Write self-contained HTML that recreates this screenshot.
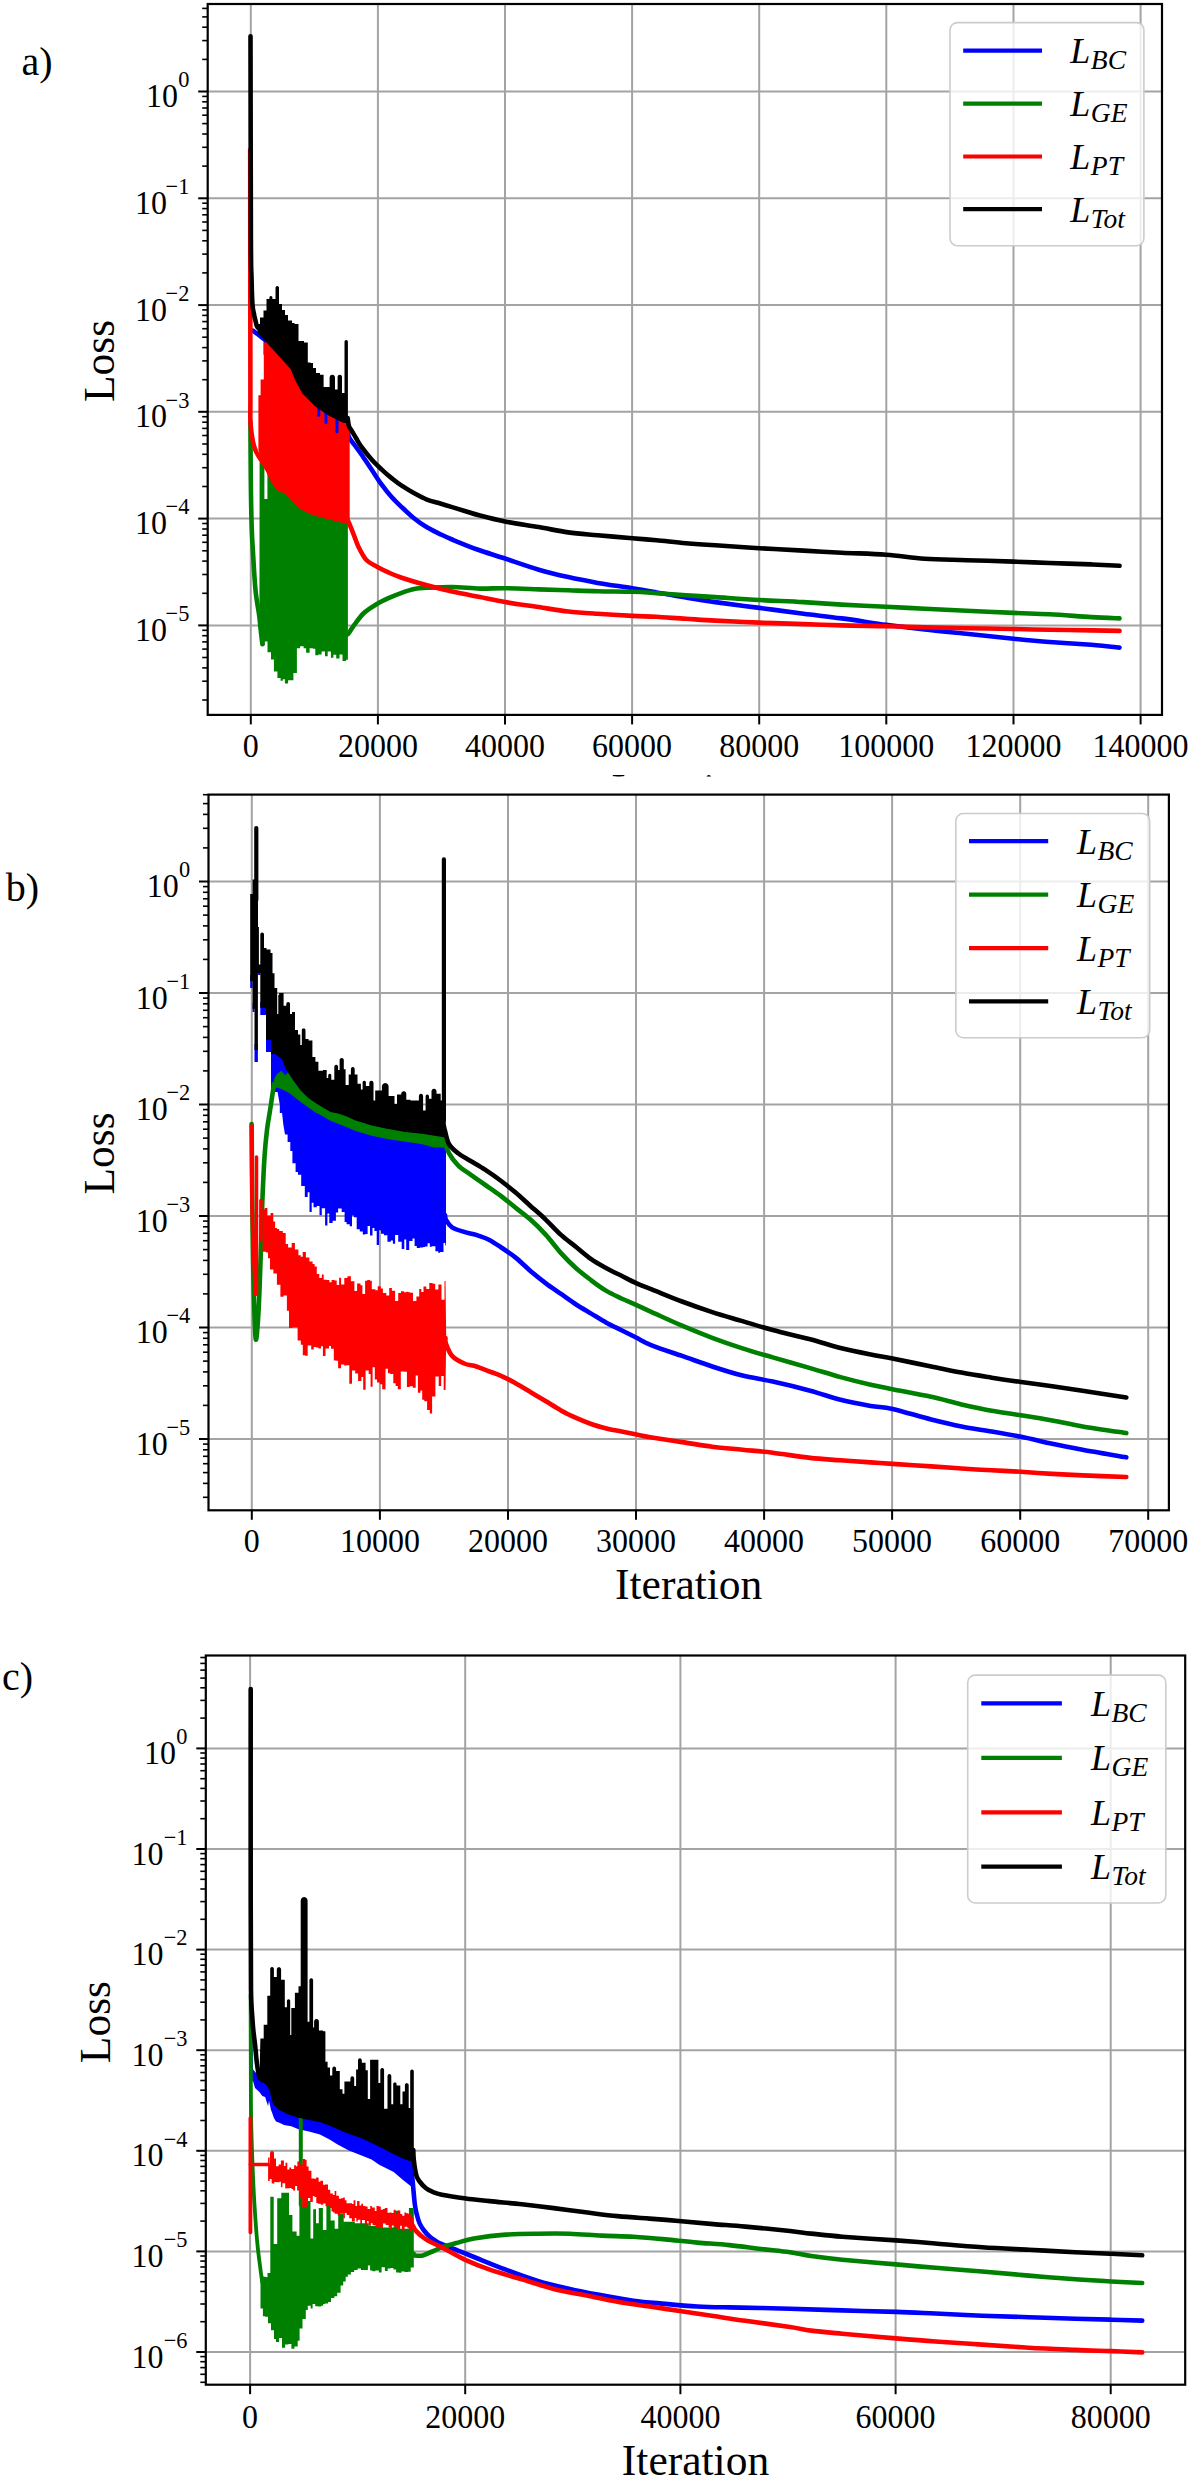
<!DOCTYPE html>
<html><head><meta charset="utf-8"><title>Loss curves</title>
<style>html,body{margin:0;padding:0;background:#fff;}svg{display:block;}</style></head>
<body><svg width="1190" height="2480" viewBox="0 0 1190 2480">
<rect width="1190" height="2480" fill="#fff"/>
<defs><clipPath id="ca"><rect x="0" y="0" width="1190" height="776.5"/></clipPath></defs>
<g clip-path="url(#ca)">
<line x1="250.8" y1="4" x2="250.8" y2="714.9" stroke="#a3a3a3" stroke-width="2"/>
<line x1="377.9" y1="4" x2="377.9" y2="714.9" stroke="#a3a3a3" stroke-width="2"/>
<line x1="505" y1="4" x2="505" y2="714.9" stroke="#a3a3a3" stroke-width="2"/>
<line x1="632.1" y1="4" x2="632.1" y2="714.9" stroke="#a3a3a3" stroke-width="2"/>
<line x1="759.2" y1="4" x2="759.2" y2="714.9" stroke="#a3a3a3" stroke-width="2"/>
<line x1="886.3" y1="4" x2="886.3" y2="714.9" stroke="#a3a3a3" stroke-width="2"/>
<line x1="1013.5" y1="4" x2="1013.5" y2="714.9" stroke="#a3a3a3" stroke-width="2"/>
<line x1="1140.6" y1="4" x2="1140.6" y2="714.9" stroke="#a3a3a3" stroke-width="2"/>
<line x1="207.7" y1="91.5" x2="1162" y2="91.5" stroke="#a3a3a3" stroke-width="2"/>
<line x1="207.7" y1="198.3" x2="1162" y2="198.3" stroke="#a3a3a3" stroke-width="2"/>
<line x1="207.7" y1="305.1" x2="1162" y2="305.1" stroke="#a3a3a3" stroke-width="2"/>
<line x1="207.7" y1="411.8" x2="1162" y2="411.8" stroke="#a3a3a3" stroke-width="2"/>
<line x1="207.7" y1="518.6" x2="1162" y2="518.6" stroke="#a3a3a3" stroke-width="2"/>
<line x1="207.7" y1="625.4" x2="1162" y2="625.4" stroke="#a3a3a3" stroke-width="2"/>
<path d="M252.9,330.6 C254.1,331.5 257.6,334.2 260,336 C262.4,337.8 265.8,340.3 267,341.2" fill="none" stroke="#0000ff" stroke-width="4.6" stroke-linejoin="round" stroke-linecap="round"/>
<line x1="265.3" y1="341" x2="265.3" y2="354" stroke="#0000ff" stroke-width="3.5" stroke-linecap="round"/>
<path d="M347.7,425 C347.9,426.9 347.6,433.2 348.7,436.5 C349.8,439.8 352.4,442.1 354.5,445 C356.6,447.9 358.5,450.1 361.3,454.2 C364.1,458.2 368,464.3 371.4,469.3 C374.8,474.3 378.1,479.8 381.5,484.4 C384.9,489 388.2,493.2 391.6,497 C395,500.8 397.9,503.5 401.7,507.1 C405.5,510.7 410.1,515.1 414.3,518.5 C418.5,521.9 422.7,524.8 426.9,527.3 C431.1,529.8 435.3,531.8 439.5,533.8 C443.7,535.8 445.8,536.9 452.1,539.5 C458.4,542.1 468.5,546.3 477.3,549.5 C486.1,552.7 494.8,555.1 505,558.5 C515.2,561.9 528.3,566.6 538.8,569.7 C549.3,572.8 558.4,574.9 568.2,577.1 C578,579.3 586.9,581 597.6,582.9 C608.3,584.8 622.6,586.6 632.4,588.2 C642.2,589.8 647.6,590.8 656.5,592.4 C665.4,594 676.1,596 685.9,597.6 C695.7,599.2 703,600.4 715.3,602.1 C727.5,603.8 744.7,606 759.4,607.9 C774.1,609.8 789.8,612 803.5,613.8 C817.2,615.5 827.9,616.6 841.6,618.4 C855.4,620.2 872.1,622.9 886,624.8 C899.9,626.6 911.4,628 924.8,629.5 C938.2,631 951.6,632.2 966.4,633.7 C981.2,635.2 999.6,637.3 1013.5,638.7 C1027.4,640.1 1036.6,641 1049.6,642 C1062.5,643 1079.5,643.9 1091.2,644.8 C1102.9,645.7 1114.8,647.1 1119.5,647.6" fill="none" stroke="#0000ff" stroke-width="4.6" stroke-linejoin="round" stroke-linecap="round"/>
<path d="M250.4,422 C250.5,431.7 250.6,462.4 250.8,480 C251,497.6 251.3,515.2 251.7,527.3 C252.1,539.4 252.4,542 253,552.5 C253.6,563 254.5,579.8 255.5,590.3 C256.5,600.8 258.4,609.2 259.2,615.5 C260,621.8 260,623.3 260.5,628.1 C261,632.9 262.1,641.6 262.4,644.3" fill="none" stroke="#008000" stroke-width="4.6" stroke-linejoin="round" stroke-linecap="round"/>
<polygon points="259.6,462 347.9,462 347.9,632 347.9,659.7 346,659.7 346,661.1 342.5,661.1 342.5,654.6 339.5,654.6 339.5,658.5 336.2,658.5 336.2,654.7 333.4,654.7 333.4,657.7 330.9,657.7 330.9,651.6 327.7,651.6 327.7,656.2 325,656.2 325,651.6 321.6,651.6 321.6,654.6 318.4,654.6 318.4,655.3 315.3,655.3 315.3,648.8 312.9,648.8 312.9,648.3 309.6,648.3 309.6,652.7 306.1,652.7 306.1,648.2 303.6,648.2 303.6,646.2 300.1,646.2 300.1,648.3 296.9,648.3 296.9,673 293.4,673 293.4,680.2 290.2,680.2 290.2,680.3 288.1,680.3 288.1,683.4 284.9,683.4 284.9,679.2 282.8,679.2 282.8,680.8 280.6,680.8 280.6,677.9 277.4,677.9 277.4,671.4 273.9,671.4 273.9,659.4 271,659.4 271,652.3 267.5,652.3 267.5,641.6 264.8,641.6 264.8,645 261.6,645 261.6,633.1 259.4,633.1" fill="#008000"/>
<rect x="264.4" y="468" width="3" height="31" fill="#fff"/>
<path d="M347.7,634 C347.9,633.9 347.7,634.6 348.7,633.2 C349.7,631.8 351.3,629 353.8,625.6 C356.3,622.2 360.1,616.6 363.9,613 C367.7,609.4 372.3,606.7 376.5,604.2 C380.7,601.7 384.8,599.8 389,597.9 C393.2,596 397.5,594.3 401.7,592.8 C405.9,591.3 410.1,589.8 414.3,589 C418.5,588.2 420.6,588.1 426.9,587.8 C433.2,587.5 443.2,586.9 452.1,587 C461,587.1 471.2,588.4 480,588.6 C488.8,588.8 495.2,588.1 505,588.2 C514.8,588.3 528.3,589 538.8,589.4 C549.3,589.8 558.4,590 568.2,590.3 C578,590.6 586.9,591 597.6,591.2 C608.3,591.5 622.6,591.5 632.4,591.8 C642.2,592.1 647.6,592.6 656.5,593.2 C665.4,593.8 676.1,594.6 685.9,595.3 C695.7,595.9 703,596.3 715.3,597.1 C727.5,597.9 744.7,599.2 759.4,600 C774.1,600.8 789.8,601.3 803.5,602.1 C817.2,602.9 827.9,603.8 841.6,604.6 C855.4,605.4 872.1,606.1 886,606.8 C899.9,607.5 911.4,608.1 924.8,608.7 C938.2,609.4 951.6,610 966.4,610.7 C981.2,611.4 999.6,612.3 1013.5,612.9 C1027.4,613.5 1036.6,613.6 1049.6,614.3 C1062.5,615 1079.5,616.4 1091.2,617.1 C1102.9,617.8 1114.8,618.2 1119.5,618.4" fill="none" stroke="#008000" stroke-width="4.6" stroke-linejoin="round" stroke-linecap="round"/>
<path d="M250.2,150 C250.2,175 250.3,258.3 250.3,300 C250.3,341.7 250.4,379.3 250.4,400 C250.4,420.7 250,416.2 250.6,424 C251.2,431.8 252.5,440.7 254.2,446.6 C255.8,452.5 258.8,456.3 260.5,459.2 C262.2,462.1 263,462.3 264.2,464.1 C265.4,465.9 266.2,467.2 267.8,470.2 C269.4,473.2 271.9,479.1 273.9,482.3 C275.9,485.5 278.1,488.1 279.9,489.5 C281.7,490.9 282.8,489.3 284.8,490.7 C286.8,492.1 289.4,495.4 292,498 C294.6,500.6 297.1,504 300.5,506.4 C303.9,508.8 308.6,510.9 312.6,512.5 C316.6,514.1 320.7,515 324.7,516.1 C328.7,517.2 333.2,518.4 336.8,519.2 C340.4,520 344.9,520.7 346.5,521" fill="none" stroke="#ff0000" stroke-width="4.6" stroke-linejoin="round" stroke-linecap="round"/>
<polygon points="265.3,342.4 267,340 277.6,351.8 290.6,365.9 295.3,377.6 302.4,390.6 315.3,403.5 329.4,413 343.5,420 349.7,421 349.7,521 336.8,521 324.7,518 312.6,514.5 300.5,508.4 292,500 284.8,492.7 279.9,491.5 273.9,484.3 267.8,472.2 264.2,466.1 260,455.2 258.4,450 258.4,395.3 260.6,395.3 260.6,379.4 263.8,379.4 263.8,342.4" fill="#ff0000"/>
<path d="M347.7,520 C347.9,520.4 347.7,519.7 348.7,522.2 C349.7,524.7 352.1,530.6 353.8,534.8 C355.5,539 356.7,543.3 358.8,547.5 C360.9,551.7 363.4,556.9 366.4,560 C369.3,563.1 372.7,564.3 376.5,566.4 C380.3,568.5 384.8,570.8 389,572.7 C393.2,574.6 395.4,575.6 401.7,577.7 C408,579.8 418.5,583 426.9,585.3 C435.3,587.6 443.2,589.6 452.1,591.6 C461,593.6 471.2,595.4 480,597.1 C488.8,598.9 495.2,600.4 505,602.1 C514.8,603.8 528.3,605.5 538.8,607.1 C549.3,608.7 558.4,610.4 568.2,611.5 C578,612.6 586.9,613.1 597.6,613.8 C608.3,614.5 622.6,615.4 632.4,615.9 C642.2,616.4 647.6,616.3 656.5,616.8 C665.4,617.3 676.1,618.2 685.9,618.8 C695.7,619.4 703,620 715.3,620.6 C727.5,621.2 744.7,622 759.4,622.6 C774.1,623.2 789.8,623.6 803.5,624.1 C817.2,624.6 827.9,625 841.6,625.4 C855.4,625.8 872.1,625.9 886,626.2 C899.9,626.5 911.4,627 924.8,627.3 C938.2,627.6 951.6,627.9 966.4,628.2 C981.2,628.5 999.6,628.7 1013.5,629 C1027.4,629.3 1036.6,629.6 1049.6,629.8 C1062.5,630 1079.5,630.2 1091.2,630.4 C1102.9,630.6 1114.8,630.8 1119.5,630.9" fill="none" stroke="#ff0000" stroke-width="4.6" stroke-linejoin="round" stroke-linecap="round"/>
<line x1="318.8" y1="400" x2="318.8" y2="415.3" stroke="#0000ff" stroke-width="3" stroke-linecap="round"/>
<line x1="325.9" y1="400" x2="325.9" y2="422.4" stroke="#0000ff" stroke-width="3" stroke-linecap="round"/>
<line x1="337" y1="400" x2="337" y2="431.8" stroke="#0000ff" stroke-width="3" stroke-linecap="round"/>
<path d="M250.5,36.3 C250.6,69.9 250.7,197.9 250.9,238 C251.1,278.1 251.2,265.7 251.5,276.8 C251.8,287.9 252,298.4 252.5,304.8 C253,311.2 253.6,311.9 254.3,315.5 C255.1,319.1 256.1,324.1 257,326.4 C257.9,328.7 259.5,328.9 260,329.4" fill="none" stroke="#000000" stroke-width="4.6" stroke-linejoin="round" stroke-linecap="round"/>
<polygon points="257.6,324 260,324 260,317.5 263.5,317.5 263.5,310.6 266.5,310.6 266.5,299 269.4,299 269.4,297.5 269.6,296.8 270.1,296.2 270.9,296 271.6,296.2 272.2,296.8 272.4,297.5 272.4,299 275.5,299 275.5,287.8 275.7,286.9 276.4,286.2 277.2,286 278.1,286.2 278.8,286.9 279,287.8 279,304 282,304 282,310 285,310 285,315 288,315 288,320.6 292,320.6 292,323 294.5,323 294.5,324 298.5,324 298.5,341 304,341 304,342.4 307.8,342.4 307.8,362.4 310.6,362.4 310.6,363 313,363 313,368 316,368 316,373 320,373 320,374.7 323.6,374.7 323.6,387 329.6,387 329.6,377.4 330,376.1 330.9,375.1 332.3,374.7 333.6,375.1 334.6,376.1 335,377.4 335,389.4 337.6,389.4 337.6,376.9 337.9,375.8 338.7,375 339.8,374.7 340.9,375 341.7,375.8 342,376.9 342,393 344.5,393 344.5,341.7 344.7,340.9 345.3,340.2 346.2,340 347,340.2 347.7,340.9 347.9,341.7 347.9,423 343.5,423 329.4,416 315.3,406.5 302.4,393.6 295.3,380.6 290.6,368.9 277.6,354.8 267,343 257.6,333" fill="#000000"/>
<path d="M347.7,418 C347.9,419.3 348.3,424 348.9,426 C349.5,428 350,428 351.2,430 C352.4,432 354.3,435.2 356,438 C357.7,440.8 358.7,443.1 361.3,446.6 C363.9,450.1 368,455.4 371.4,459.2 C374.8,463 378.1,466.1 381.5,469.3 C384.9,472.5 388.2,475.4 391.6,478.1 C395,480.8 397.9,483.2 401.7,485.7 C405.5,488.2 410.1,491 414.3,493.3 C418.5,495.6 422.7,497.9 426.9,499.6 C431.1,501.3 435.3,502.1 439.5,503.3 C443.7,504.6 447.9,505.8 452.1,507.1 C456.3,508.4 460.1,509.6 464.7,511 C469.3,512.4 473.3,513.9 480,515.6 C486.7,517.4 495.2,519.6 505,521.5 C514.8,523.4 528.3,525.3 538.8,527.1 C549.3,528.9 558.4,531 568.2,532.4 C578,533.8 586.9,534.3 597.6,535.3 C608.3,536.3 622.6,537.4 632.4,538.2 C642.2,539 647.6,539.5 656.5,540.3 C665.4,541.1 676.1,542.4 685.9,543.2 C695.7,544 703,544.5 715.3,545.3 C727.5,546.1 744.7,547.3 759.4,548.2 C774.1,549.1 789.8,549.9 803.5,550.6 C817.2,551.4 827.9,552 841.6,552.7 C855.4,553.4 872.1,553.7 886,554.7 C899.9,555.7 911.4,557.9 924.8,558.8 C938.2,559.7 951.6,559.7 966.4,560.2 C981.2,560.7 999.6,561.1 1013.5,561.6 C1027.4,562.1 1036.6,562.5 1049.6,563 C1062.5,563.5 1079.5,563.9 1091.2,564.4 C1102.9,564.9 1114.8,565.6 1119.5,565.8" fill="none" stroke="#000000" stroke-width="4.6" stroke-linejoin="round" stroke-linecap="round"/>
<rect x="950" y="22.6" width="193.9" height="223.2" rx="7.5" ry="7.5" fill="#ffffff" fill-opacity="0.8" stroke="#cccccc" stroke-width="1.6"/>
<line x1="963.2" y1="50.6" x2="1042" y2="50.6" stroke="#0000ff" stroke-width="4.2"/>
<text x="1070.3" y="63.2" font-family="'Liberation Serif', serif" font-style="italic" font-size="36">L<tspan font-size="27.5" dy="5.8" dx="0.5">BC</tspan></text>
<line x1="963.2" y1="103.7" x2="1042" y2="103.7" stroke="#008000" stroke-width="4.2"/>
<text x="1070.3" y="116.3" font-family="'Liberation Serif', serif" font-style="italic" font-size="36">L<tspan font-size="27.5" dy="5.8" dx="0.5">GE</tspan></text>
<line x1="963.2" y1="156.5" x2="1042" y2="156.5" stroke="#ff0000" stroke-width="4.2"/>
<text x="1070.3" y="169.1" font-family="'Liberation Serif', serif" font-style="italic" font-size="36">L<tspan font-size="27.5" dy="5.8" dx="0.5">PT</tspan></text>
<line x1="963.2" y1="209.1" x2="1042" y2="209.1" stroke="#000000" stroke-width="4.2"/>
<text x="1070.3" y="221.7" font-family="'Liberation Serif', serif" font-style="italic" font-size="36">L<tspan font-size="27.5" dy="5.8" dx="0.5">Tot</tspan></text>
<rect x="207.7" y="4" width="954.3" height="710.9" fill="none" stroke="#000" stroke-width="2.2"/>
<line x1="250.8" y1="714.9" x2="250.8" y2="724.4" stroke="#000" stroke-width="2"/>
<text transform="translate(250.8,756.7) scale(1,1.065)" font-family="'Liberation Serif', serif" font-size="32" text-anchor="middle">0</text>
<line x1="377.9" y1="714.9" x2="377.9" y2="724.4" stroke="#000" stroke-width="2"/>
<text transform="translate(377.9,756.7) scale(1,1.065)" font-family="'Liberation Serif', serif" font-size="32" text-anchor="middle">20000</text>
<line x1="505" y1="714.9" x2="505" y2="724.4" stroke="#000" stroke-width="2"/>
<text transform="translate(505,756.7) scale(1,1.065)" font-family="'Liberation Serif', serif" font-size="32" text-anchor="middle">40000</text>
<line x1="632.1" y1="714.9" x2="632.1" y2="724.4" stroke="#000" stroke-width="2"/>
<text transform="translate(632.1,756.7) scale(1,1.065)" font-family="'Liberation Serif', serif" font-size="32" text-anchor="middle">60000</text>
<line x1="759.2" y1="714.9" x2="759.2" y2="724.4" stroke="#000" stroke-width="2"/>
<text transform="translate(759.2,756.7) scale(1,1.065)" font-family="'Liberation Serif', serif" font-size="32" text-anchor="middle">80000</text>
<line x1="886.3" y1="714.9" x2="886.3" y2="724.4" stroke="#000" stroke-width="2"/>
<text transform="translate(886.3,756.7) scale(1,1.065)" font-family="'Liberation Serif', serif" font-size="32" text-anchor="middle">100000</text>
<line x1="1013.5" y1="714.9" x2="1013.5" y2="724.4" stroke="#000" stroke-width="2"/>
<text transform="translate(1013.5,756.7) scale(1,1.065)" font-family="'Liberation Serif', serif" font-size="32" text-anchor="middle">120000</text>
<line x1="1140.6" y1="714.9" x2="1140.6" y2="724.4" stroke="#000" stroke-width="2"/>
<text transform="translate(1140.6,756.7) scale(1,1.065)" font-family="'Liberation Serif', serif" font-size="32" text-anchor="middle">140000</text>
<line x1="198.2" y1="91.5" x2="207.7" y2="91.5" stroke="#000" stroke-width="2"/>
<text transform="translate(189.4,87.2) scale(1,1.065)" font-family="'Liberation Serif', serif" font-size="22.4" text-anchor="end">0</text>
<text transform="translate(178,107.1) scale(1,1.065)" font-family="'Liberation Serif', serif" font-size="32" text-anchor="end">10</text>
<line x1="202.2" y1="59.4" x2="207.7" y2="59.4" stroke="#000" stroke-width="1.6"/>
<line x1="202.2" y1="40.6" x2="207.7" y2="40.6" stroke="#000" stroke-width="1.6"/>
<line x1="202.2" y1="27.2" x2="207.7" y2="27.2" stroke="#000" stroke-width="1.6"/>
<line x1="202.2" y1="16.9" x2="207.7" y2="16.9" stroke="#000" stroke-width="1.6"/>
<line x1="202.2" y1="8.4" x2="207.7" y2="8.4" stroke="#000" stroke-width="1.6"/>
<line x1="198.2" y1="198.3" x2="207.7" y2="198.3" stroke="#000" stroke-width="2"/>
<text transform="translate(189.4,194) scale(1,1.065)" font-family="'Liberation Serif', serif" font-size="22.4" text-anchor="end">−1</text>
<text transform="translate(167,213.9) scale(1,1.065)" font-family="'Liberation Serif', serif" font-size="32" text-anchor="end">10</text>
<line x1="202.2" y1="166.1" x2="207.7" y2="166.1" stroke="#000" stroke-width="1.6"/>
<line x1="202.2" y1="147.3" x2="207.7" y2="147.3" stroke="#000" stroke-width="1.6"/>
<line x1="202.2" y1="134" x2="207.7" y2="134" stroke="#000" stroke-width="1.6"/>
<line x1="202.2" y1="123.6" x2="207.7" y2="123.6" stroke="#000" stroke-width="1.6"/>
<line x1="202.2" y1="115.2" x2="207.7" y2="115.2" stroke="#000" stroke-width="1.6"/>
<line x1="202.2" y1="108" x2="207.7" y2="108" stroke="#000" stroke-width="1.6"/>
<line x1="202.2" y1="101.8" x2="207.7" y2="101.8" stroke="#000" stroke-width="1.6"/>
<line x1="202.2" y1="96.4" x2="207.7" y2="96.4" stroke="#000" stroke-width="1.6"/>
<line x1="198.2" y1="305.1" x2="207.7" y2="305.1" stroke="#000" stroke-width="2"/>
<text transform="translate(189.4,300.8) scale(1,1.065)" font-family="'Liberation Serif', serif" font-size="22.4" text-anchor="end">−2</text>
<text transform="translate(167,320.7) scale(1,1.065)" font-family="'Liberation Serif', serif" font-size="32" text-anchor="end">10</text>
<line x1="202.2" y1="272.9" x2="207.7" y2="272.9" stroke="#000" stroke-width="1.6"/>
<line x1="202.2" y1="254.1" x2="207.7" y2="254.1" stroke="#000" stroke-width="1.6"/>
<line x1="202.2" y1="240.8" x2="207.7" y2="240.8" stroke="#000" stroke-width="1.6"/>
<line x1="202.2" y1="230.4" x2="207.7" y2="230.4" stroke="#000" stroke-width="1.6"/>
<line x1="202.2" y1="222" x2="207.7" y2="222" stroke="#000" stroke-width="1.6"/>
<line x1="202.2" y1="214.8" x2="207.7" y2="214.8" stroke="#000" stroke-width="1.6"/>
<line x1="202.2" y1="208.6" x2="207.7" y2="208.6" stroke="#000" stroke-width="1.6"/>
<line x1="202.2" y1="203.2" x2="207.7" y2="203.2" stroke="#000" stroke-width="1.6"/>
<line x1="198.2" y1="411.8" x2="207.7" y2="411.8" stroke="#000" stroke-width="2"/>
<text transform="translate(189.4,407.5) scale(1,1.065)" font-family="'Liberation Serif', serif" font-size="22.4" text-anchor="end">−3</text>
<text transform="translate(167,427.4) scale(1,1.065)" font-family="'Liberation Serif', serif" font-size="32" text-anchor="end">10</text>
<line x1="202.2" y1="379.7" x2="207.7" y2="379.7" stroke="#000" stroke-width="1.6"/>
<line x1="202.2" y1="360.9" x2="207.7" y2="360.9" stroke="#000" stroke-width="1.6"/>
<line x1="202.2" y1="347.6" x2="207.7" y2="347.6" stroke="#000" stroke-width="1.6"/>
<line x1="202.2" y1="337.2" x2="207.7" y2="337.2" stroke="#000" stroke-width="1.6"/>
<line x1="202.2" y1="328.7" x2="207.7" y2="328.7" stroke="#000" stroke-width="1.6"/>
<line x1="202.2" y1="321.6" x2="207.7" y2="321.6" stroke="#000" stroke-width="1.6"/>
<line x1="202.2" y1="315.4" x2="207.7" y2="315.4" stroke="#000" stroke-width="1.6"/>
<line x1="202.2" y1="309.9" x2="207.7" y2="309.9" stroke="#000" stroke-width="1.6"/>
<line x1="198.2" y1="518.6" x2="207.7" y2="518.6" stroke="#000" stroke-width="2"/>
<text transform="translate(189.4,514.3) scale(1,1.065)" font-family="'Liberation Serif', serif" font-size="22.4" text-anchor="end">−4</text>
<text transform="translate(167,534.2) scale(1,1.065)" font-family="'Liberation Serif', serif" font-size="32" text-anchor="end">10</text>
<line x1="202.2" y1="486.5" x2="207.7" y2="486.5" stroke="#000" stroke-width="1.6"/>
<line x1="202.2" y1="467.7" x2="207.7" y2="467.7" stroke="#000" stroke-width="1.6"/>
<line x1="202.2" y1="454.3" x2="207.7" y2="454.3" stroke="#000" stroke-width="1.6"/>
<line x1="202.2" y1="444" x2="207.7" y2="444" stroke="#000" stroke-width="1.6"/>
<line x1="202.2" y1="435.5" x2="207.7" y2="435.5" stroke="#000" stroke-width="1.6"/>
<line x1="202.2" y1="428.4" x2="207.7" y2="428.4" stroke="#000" stroke-width="1.6"/>
<line x1="202.2" y1="422.2" x2="207.7" y2="422.2" stroke="#000" stroke-width="1.6"/>
<line x1="202.2" y1="416.7" x2="207.7" y2="416.7" stroke="#000" stroke-width="1.6"/>
<line x1="198.2" y1="625.4" x2="207.7" y2="625.4" stroke="#000" stroke-width="2"/>
<text transform="translate(189.4,621.1) scale(1,1.065)" font-family="'Liberation Serif', serif" font-size="22.4" text-anchor="end">−5</text>
<text transform="translate(167,641) scale(1,1.065)" font-family="'Liberation Serif', serif" font-size="32" text-anchor="end">10</text>
<line x1="202.2" y1="593.3" x2="207.7" y2="593.3" stroke="#000" stroke-width="1.6"/>
<line x1="202.2" y1="574.5" x2="207.7" y2="574.5" stroke="#000" stroke-width="1.6"/>
<line x1="202.2" y1="561.1" x2="207.7" y2="561.1" stroke="#000" stroke-width="1.6"/>
<line x1="202.2" y1="550.8" x2="207.7" y2="550.8" stroke="#000" stroke-width="1.6"/>
<line x1="202.2" y1="542.3" x2="207.7" y2="542.3" stroke="#000" stroke-width="1.6"/>
<line x1="202.2" y1="535.2" x2="207.7" y2="535.2" stroke="#000" stroke-width="1.6"/>
<line x1="202.2" y1="529" x2="207.7" y2="529" stroke="#000" stroke-width="1.6"/>
<line x1="202.2" y1="523.5" x2="207.7" y2="523.5" stroke="#000" stroke-width="1.6"/>
<line x1="202.2" y1="700" x2="207.7" y2="700" stroke="#000" stroke-width="1.6"/>
<line x1="202.2" y1="681.2" x2="207.7" y2="681.2" stroke="#000" stroke-width="1.6"/>
<line x1="202.2" y1="667.9" x2="207.7" y2="667.9" stroke="#000" stroke-width="1.6"/>
<line x1="202.2" y1="657.5" x2="207.7" y2="657.5" stroke="#000" stroke-width="1.6"/>
<line x1="202.2" y1="649.1" x2="207.7" y2="649.1" stroke="#000" stroke-width="1.6"/>
<line x1="202.2" y1="641.9" x2="207.7" y2="641.9" stroke="#000" stroke-width="1.6"/>
<line x1="202.2" y1="635.7" x2="207.7" y2="635.7" stroke="#000" stroke-width="1.6"/>
<line x1="202.2" y1="630.3" x2="207.7" y2="630.3" stroke="#000" stroke-width="1.6"/>
<text x="684.9" y="803.9" font-family="'Liberation Serif', serif" font-size="43.5" text-anchor="middle">Iteration</text>
<text transform="translate(114,360.9) rotate(-90)" font-family="'Liberation Serif', serif" font-size="43.5" text-anchor="middle">Loss</text>
<text x="21.5" y="74.5" font-family="'Liberation Serif', serif" font-size="40">a)</text>
</g>
<line x1="251.8" y1="794.6" x2="251.8" y2="1510.3" stroke="#a3a3a3" stroke-width="2"/>
<line x1="379.9" y1="794.6" x2="379.9" y2="1510.3" stroke="#a3a3a3" stroke-width="2"/>
<line x1="508" y1="794.6" x2="508" y2="1510.3" stroke="#a3a3a3" stroke-width="2"/>
<line x1="636" y1="794.6" x2="636" y2="1510.3" stroke="#a3a3a3" stroke-width="2"/>
<line x1="764.1" y1="794.6" x2="764.1" y2="1510.3" stroke="#a3a3a3" stroke-width="2"/>
<line x1="892.1" y1="794.6" x2="892.1" y2="1510.3" stroke="#a3a3a3" stroke-width="2"/>
<line x1="1020.2" y1="794.6" x2="1020.2" y2="1510.3" stroke="#a3a3a3" stroke-width="2"/>
<line x1="1148.2" y1="794.6" x2="1148.2" y2="1510.3" stroke="#a3a3a3" stroke-width="2"/>
<line x1="208.5" y1="881.5" x2="1168.9" y2="881.5" stroke="#a3a3a3" stroke-width="2"/>
<line x1="208.5" y1="993" x2="1168.9" y2="993" stroke="#a3a3a3" stroke-width="2"/>
<line x1="208.5" y1="1104.5" x2="1168.9" y2="1104.5" stroke="#a3a3a3" stroke-width="2"/>
<line x1="208.5" y1="1216" x2="1168.9" y2="1216" stroke="#a3a3a3" stroke-width="2"/>
<line x1="208.5" y1="1327.5" x2="1168.9" y2="1327.5" stroke="#a3a3a3" stroke-width="2"/>
<line x1="208.5" y1="1439" x2="1168.9" y2="1439" stroke="#a3a3a3" stroke-width="2"/>
<rect x="250.2" y="975" width="2.4" height="13" fill="#0000ff"/>
<rect x="252.6" y="1003" width="1.9" height="9" fill="#0000ff"/>
<rect x="254.5" y="1044" width="3.4" height="18" fill="#0000ff"/>
<rect x="257.9" y="967" width="1" height="8" fill="#0000ff"/>
<rect x="258.9" y="967" width="1.4" height="8" fill="#0000ff"/>
<rect x="260.3" y="1002" width="3.7" height="13" fill="#0000ff"/>
<rect x="264" y="1002" width="2" height="13" fill="#0000ff"/>
<rect x="266" y="1034" width="5" height="18" fill="#0000ff"/>
<polygon points="271,1048 275.3,1048 282.1,1053 285.9,1063 295.7,1077 300,1085 300,1092 271,1092" fill="#0000ff"/>
<polygon points="276.8,1080 446,1130 446,1212 446,1245.6 445.3,1245.6 445.3,1243 443.5,1243 443.5,1252.1 440.1,1252.1 440.1,1252.8 438.2,1252.8 438.2,1251.2 435.4,1251.2 435.4,1246.2 431.8,1246.2 431.8,1246.7 429.8,1246.7 429.8,1243.2 427.6,1243.2 427.6,1246.4 425,1246.4 425,1246.9 423.2,1246.9 423.2,1247.4 419.8,1247.4 419.8,1247.9 416.8,1247.9 416.8,1246.1 414.6,1246.1 414.6,1238.6 412.5,1238.6 412.5,1240.9 409.2,1240.9 409.2,1249.9 406.2,1249.9 406.2,1239.5 404.3,1239.5 404.3,1249 401.7,1249 401.7,1241.8 398.2,1241.8 398.2,1235.1 395.1,1235.1 395.1,1243.7 392.9,1243.7 392.9,1240.6 390.8,1240.6 390.8,1241.7 387.4,1241.7 387.4,1235.2 383.9,1235.2 383.9,1233.7 381,1233.7 381,1230.3 379,1230.3 379,1244.9 376.7,1244.9 376.7,1231 374.4,1231 374.4,1228.1 372.5,1228.1 372.5,1235.4 370,1235.4 370,1226 367.6,1226 367.6,1233.9 365.3,1233.9 365.3,1234.4 362.8,1234.4 362.8,1231.4 359.8,1231.4 359.8,1229.3 356.7,1229.3 356.7,1217.3 353.9,1217.3 353.9,1215.6 352,1215.6 352,1226.2 349.7,1226.2 349.7,1224.2 346.6,1224.2 346.6,1222 344.6,1222 344.6,1211.9 341.7,1211.9 341.7,1208.6 338.1,1208.6 338.1,1212.6 335.9,1212.6 335.9,1220.8 332.6,1220.8 332.6,1222.9 329.3,1222.9 329.3,1213.5 327.4,1213.5 327.4,1225.6 325.1,1225.6 325.1,1208.3 321.8,1208.3 321.8,1215.2 319.5,1215.2 319.5,1206 316.8,1206 316.8,1207.3 313.5,1207.3 313.5,1202.8 311.7,1202.8 311.7,1212.1 309.5,1212.1 309.5,1192.2 307.7,1192.2 307.7,1197 304.8,1197 304.8,1186.1 301.2,1186.1 301.2,1174.8 298,1174.8 298,1172 295.6,1172 295.6,1163.2 292.4,1163.2 292.4,1151.1 290.3,1151.1 290.3,1142 287.6,1142 287.6,1134.5 285,1134.5 283.2,1123.7 282.1,1113 279.8,1113 279.8,1104.8 276.8,1087.4" fill="#0000ff"/>
<path d="M445,1215 C445.2,1215.8 444.8,1217.7 446,1219.8 C447.2,1221.9 449.1,1225.4 452.1,1227.4 C455.1,1229.4 460.2,1230.7 464.2,1231.9 C468.2,1233.2 472.3,1233.6 476.3,1234.9 C480.3,1236.2 484.4,1237.5 488.4,1239.5 C492.4,1241.5 496,1244 500.5,1247 C505,1250 510.6,1253.6 515.6,1257.6 C520.6,1261.6 525.7,1266.9 530.7,1271.2 C535.8,1275.5 540.9,1279.5 545.9,1283.3 C550.9,1287.1 556,1290.4 561,1293.9 C566,1297.4 571.1,1301.2 576.1,1304.5 C581.1,1307.8 586.2,1310.6 591.2,1313.6 C596.2,1316.6 601.4,1319.9 606.4,1322.7 C611.4,1325.5 616.5,1327.7 621.5,1330.2 C626.5,1332.7 631.6,1335.3 636.6,1337.8 C641.6,1340.3 644.1,1342.3 651.7,1345.3 C659.3,1348.3 671.9,1352.4 682,1355.9 C692.1,1359.4 702.1,1363.2 712.2,1366.5 C722.3,1369.8 732.4,1373.1 742.5,1375.6 C752.6,1378.1 761.4,1379.1 772.7,1381.6 C784,1384.1 798.9,1387.7 810.2,1390.7 C821.5,1393.7 830.4,1397.3 840.5,1399.8 C850.6,1402.3 862,1404.4 870.7,1405.9 C879.4,1407.4 882.4,1406.6 892.5,1408.9 C902.6,1411.2 919.7,1416.6 931.2,1419.5 C942.7,1422.4 951.4,1424.5 961.5,1426.5 C971.6,1428.5 981.8,1429.8 991.7,1431.5 C1001.6,1433.2 1011,1434.8 1021.1,1436.8 C1031.2,1438.8 1042,1441.5 1052.2,1443.7 C1062.4,1445.9 1070.2,1447.4 1082.5,1449.7 C1094.8,1452 1119,1456 1126.3,1457.3" fill="none" stroke="#0000ff" stroke-width="4.6" stroke-linejoin="round" stroke-linecap="round"/>
<path d="M251.6,1124 C251.7,1136.7 252,1174 252.3,1200 C252.6,1226 252.9,1257 253.5,1280 C254.1,1303 254.8,1331.5 255.6,1338.2 C256.4,1344.9 257.4,1328 258,1320 C258.6,1312 259,1303.3 259.5,1290 C260,1276.7 260.7,1255.8 261.2,1240 C261.7,1224.2 262,1209.1 262.6,1195 C263.2,1180.9 263.9,1166.3 264.6,1155.5 C265.3,1144.7 266.1,1137.6 267,1130 C267.9,1122.4 268.9,1117.7 270.1,1110 C271.3,1102.3 273.4,1088.3 274,1084" fill="none" stroke="#008000" stroke-width="4.6" stroke-linejoin="round" stroke-linecap="round"/>
<polygon points="273.8,1079.8 277,1074 281.3,1070.8 285.1,1075.3 288.2,1072.3 292.7,1079.8 300.3,1089.7 307.8,1097.2 315.4,1102.5 323,1107.1 330.5,1111.6 338.1,1113.1 345.6,1115.4 355,1119.8 371.8,1124.9 386.9,1128.2 405.4,1131.6 422.2,1133.3 442.4,1136.6 444.1,1137.5 444.1,1147.6 434,1147.6 422.2,1144.2 405.4,1141.7 388.6,1139.2 371.8,1135.8 355,1130.8 345.6,1126.7 338.1,1123.7 330.5,1120.7 323,1116.2 315.4,1112.4 307.8,1107.1 300.3,1101.8 292.7,1095.7 288.9,1092.7 281.3,1088.9 276.8,1087.4 273.8,1090" fill="#008000"/>
<path d="M443,1138 C444,1140.5 446.6,1148.7 449.1,1153.3 C451.6,1157.9 454.6,1161.9 458.1,1165.4 C461.6,1168.9 465.6,1171.1 470.2,1174.4 C474.8,1177.7 480.3,1181.5 485.4,1185 C490.4,1188.5 495.5,1191.8 500.5,1195.6 C505.5,1199.4 510.6,1203.7 515.6,1207.7 C520.6,1211.7 525.7,1215.3 530.7,1219.8 C535.8,1224.3 540.9,1229.4 545.9,1234.9 C550.9,1240.5 556,1247.5 561,1253.1 C566,1258.6 571.1,1263.7 576.1,1268.2 C581.1,1272.7 586.2,1276.5 591.2,1280.3 C596.2,1284.1 601.4,1287.9 606.4,1290.9 C611.4,1293.9 616.5,1296.1 621.5,1298.5 C626.5,1300.9 631.6,1302.8 636.6,1305.1 C641.6,1307.4 644.1,1308.7 651.7,1312.1 C659.3,1315.5 671.9,1321.4 682,1325.7 C692.1,1330 702.1,1334 712.2,1337.8 C722.3,1341.6 732.4,1345.1 742.5,1348.4 C752.6,1351.7 761.4,1354.1 772.7,1357.4 C784,1360.7 798.9,1364.8 810.2,1368.1 C821.5,1371.4 830.4,1374.3 840.5,1377.1 C850.6,1379.9 862,1382.7 870.7,1384.7 C879.4,1386.7 882.4,1387.2 892.5,1389.2 C902.6,1391.2 919.7,1394.3 931.2,1396.8 C942.7,1399.3 951.4,1402.1 961.5,1404.4 C971.6,1406.7 981.8,1409 991.7,1410.8 C1001.6,1412.6 1011,1413.7 1021.1,1415.3 C1031.2,1416.9 1042,1418.6 1052.2,1420.4 C1062.4,1422.2 1070.2,1424.3 1082.5,1426.4 C1094.8,1428.5 1119,1432 1126.3,1433.1" fill="none" stroke="#008000" stroke-width="4.6" stroke-linejoin="round" stroke-linecap="round"/>
<path d="M251.6,1125.9 C251.7,1138.2 251.7,1179.3 252,1200 C252.3,1220.7 252.9,1234.3 253.5,1250 C254.1,1265.7 255.2,1286.8 255.6,1294.1" fill="none" stroke="#ff0000" stroke-width="3.8" stroke-linejoin="round" stroke-linecap="round"/>
<line x1="256.5" y1="1157" x2="256.5" y2="1294" stroke="#ff0000" stroke-width="3.5" stroke-linecap="round"/>
<line x1="260.9" y1="1200.6" x2="260.9" y2="1239.4" stroke="#ff0000" stroke-width="3.5" stroke-linecap="round"/>
<polygon points="262.6,1209.6 264.7,1209.6 264.7,1208 267.4,1208 267.4,1215.7 270.6,1215.7 270.6,1213.1 273.3,1213.1 273.3,1221.4 275.1,1221.4 275.1,1228.1 277,1228.1 277,1229.1 279.2,1229.1 279.2,1231.1 282.8,1231.1 282.8,1232.9 285.7,1232.9 285.7,1244 288.1,1244 288.1,1247.5 291.7,1247.5 291.7,1243 294.9,1243 294.9,1249.6 298.4,1249.6 298.4,1255.3 300.8,1255.3 300.8,1256.8 302.7,1256.8 302.7,1252 305.9,1252 305.9,1257.5 309.4,1257.5 309.4,1261.6 312.6,1261.6 312.6,1264 314.6,1264 314.6,1266.4 316.8,1266.4 316.8,1273.9 319.3,1273.9 319.3,1277.9 321.8,1277.9 321.8,1274.4 323.7,1274.4 323.7,1279.8 326.8,1279.8 326.8,1280 329.4,1280 329.4,1282.2 331.6,1282.2 331.6,1280 334.6,1280 334.6,1280.5 336.7,1280.5 336.7,1284.9 339.1,1284.9 339.1,1277.7 341.1,1277.7 341.1,1284.4 344.3,1284.4 344.3,1277.9 347.4,1277.9 347.4,1276.3 350.9,1276.3 350.9,1281.2 354.4,1281.2 354.4,1291.1 357.1,1291.1 357.1,1283.6 360.5,1283.6 360.5,1285.2 362.4,1285.2 362.4,1293.9 365.1,1293.9 365.1,1280.8 367.3,1280.8 367.3,1279.9 369.9,1279.9 369.9,1280.7 371.8,1280.7 371.8,1289.2 375.4,1289.2 375.4,1290.2 377.7,1290.2 377.7,1286.3 380.8,1286.3 380.8,1288.6 382.9,1288.6 382.9,1293 386.3,1293 386.3,1295.5 389.2,1295.5 389.2,1288.1 391.9,1288.1 391.9,1290.7 395.1,1290.7 395.1,1300.9 398.2,1300.9 398.2,1293 401,1293 401,1291.2 403.9,1291.2 403.9,1292.3 406.4,1292.3 406.4,1291.8 408.4,1291.8 408.4,1292.2 410.4,1292.2 410.4,1292.7 413,1292.7 413,1301.1 416.4,1301.1 416.4,1296.5 419.2,1296.5 419.2,1289 421.3,1289 421.3,1292.1 423.5,1292.1 423.5,1286.5 426.3,1286.5 426.3,1288.9 429.3,1288.9 429.3,1283.1 432.6,1283.1 432.6,1283.8 435.2,1283.8 435.2,1289.6 438.4,1289.6 438.4,1284.6 441.5,1284.6 441.5,1299.7 444.5,1299.7 444.5,1281.1 445.5,1281.1 446.2,1338 445.5,1390 443.7,1390 443.7,1375.9 441.2,1375.9 441.2,1385.9 438.7,1385.9 438.7,1376.4 435.4,1376.4 435.4,1396.4 432.1,1396.4 432.1,1413.6 429.8,1413.6 429.8,1410.1 427.1,1410.1 427.1,1401.3 424.3,1401.3 424.3,1399.7 422.2,1399.7 422.2,1390.4 420.4,1390.4 420.4,1392.8 417.9,1392.8 417.9,1375.6 415.7,1375.6 415.7,1387.7 412.8,1387.7 412.8,1386.3 409.6,1386.3 409.6,1387 406.9,1387 406.9,1371.7 404.2,1371.7 404.2,1371.5 400.8,1371.5 400.8,1389.2 397.8,1389.2 397.8,1386 395.6,1386 395.6,1383.3 393.3,1383.3 393.3,1374 390.2,1374 390.2,1373.3 388,1373.3 388,1368.8 385.5,1368.8 385.5,1389.3 382.2,1389.3 382.2,1384.3 379.8,1384.3 379.8,1382.6 377.1,1382.6 377.1,1379.5 374.8,1379.5 374.8,1367.3 372.6,1367.3 372.6,1386.7 370.6,1386.7 370.6,1374 368.7,1374 368.7,1370.5 365.6,1370.5 365.6,1389.7 363.2,1389.7 363.2,1377.1 361.4,1377.1 361.4,1381 358.1,1381 358.1,1373.6 355.2,1373.6 355.2,1370.5 352,1370.5 352,1383.7 349.3,1383.7 349.3,1365.3 346.7,1365.3 346.7,1365.6 344.1,1365.6 344.1,1364.5 341.1,1364.5 341.1,1368.3 338.1,1368.3 338.1,1360.8 336.2,1360.8 336.2,1360.5 333.8,1360.5 333.8,1348.8 331,1348.8 331,1346 329,1346 329,1348.4 325.5,1348.4 325.5,1355.9 322.9,1355.9 322.9,1346.3 321,1346.3 321,1348.4 318.4,1348.4 318.4,1347.6 316.1,1347.6 316.1,1347.1 313.7,1347.1 313.7,1349.5 311.2,1349.5 311.2,1345.6 307.7,1345.6 307.7,1355.7 305,1355.7 305,1355.3 302.8,1355.3 302.8,1344.8 300.8,1344.8 300.8,1340.4 297.6,1340.4 297.6,1327.4 295.3,1327.4 295.3,1327.6 292.5,1327.6 292.5,1328.1 289,1328.1 289,1310.8 286.9,1310.8 286.9,1295.6 283.5,1295.6 283.5,1296.7 280.4,1296.7 280.4,1284.8 276.9,1284.8 276.9,1273.6 273.4,1273.6 273.4,1269.4 270,1269.4 270,1258.3 268,1258.3 268,1252.4 266.1,1252.4 266.1,1251.7 262.6,1251.7" fill="#ff0000"/>
<path d="M445.5,1338 C445.6,1339 444.9,1340.8 446,1343.8 C447.1,1346.8 449.1,1352.6 452.1,1355.9 C455.1,1359.2 460.2,1361.7 464.2,1363.5 C468.2,1365.3 472.3,1365.2 476.3,1366.5 C480.3,1367.8 484.4,1369.6 488.4,1371.1 C492.4,1372.6 496,1373.6 500.5,1375.6 C505,1377.6 510.6,1380.4 515.6,1383.2 C520.6,1386 525.7,1389.2 530.7,1392.2 C535.8,1395.2 540.9,1398.3 545.9,1401.3 C550.9,1404.3 556,1407.6 561,1410.4 C566,1413.2 571.1,1415.6 576.1,1417.9 C581.1,1420.2 586.2,1422.2 591.2,1424 C596.2,1425.8 601.4,1427.2 606.4,1428.5 C611.4,1429.8 616.5,1430.5 621.5,1431.5 C626.5,1432.5 631.6,1433.6 636.6,1434.6 C641.6,1435.6 644.1,1436.3 651.7,1437.6 C659.3,1438.8 671.9,1440.6 682,1442.1 C692.1,1443.6 702.1,1445.4 712.2,1446.7 C722.3,1448 732.4,1448.7 742.5,1449.7 C752.6,1450.7 761.4,1451.3 772.7,1452.7 C784,1454.1 798.9,1456.6 810.2,1457.9 C821.5,1459.2 830.4,1459.5 840.5,1460.3 C850.6,1461 862,1461.8 870.7,1462.4 C879.4,1463 882.4,1463.2 892.5,1463.9 C902.6,1464.6 919.7,1465.6 931.2,1466.4 C942.7,1467.2 951.4,1467.8 961.5,1468.5 C971.6,1469.2 981.8,1469.8 991.7,1470.3 C1001.6,1470.8 1011,1471.2 1021.1,1471.8 C1031.2,1472.4 1042,1473.3 1052.2,1473.9 C1062.4,1474.5 1070.2,1474.9 1082.5,1475.4 C1094.8,1475.9 1119,1476.7 1126.3,1477" fill="none" stroke="#ff0000" stroke-width="4.6" stroke-linejoin="round" stroke-linecap="round"/>
<polygon points="250.2,893.9 252.6,893.9 252.6,879.4 254.5,879.4 254.5,879.4 258,879.4 258,927 258.9,927 258.9,964.5 260.3,964.5 260.3,934.5 260.5,933.5 261.2,932.8 262.1,932.6 263.1,932.8 263.8,933.5 264,934.5 264,948 266.5,948 266.5,949.5 270.5,949.5 270.5,953 272.5,953 272.5,973.3 274.5,973.3 274.5,988 277.2,988 277.2,1014 278.3,1014 278.3,995 279.1,995 279.1,993 283.6,993 283.6,1005.7 286.3,1005.7 286.3,1003.9 286.5,1002.9 287.2,1002.2 288.1,1002 289.1,1002.2 289.8,1002.9 290,1003.9 290,1014 292,1014 292,1012 295,1012 295,1030 298,1030 298,1034.5 300.3,1034.5 300.3,1045 301.8,1045 301.8,1030.2 302,1029.3 302.7,1028.6 303.6,1028.4 304.6,1028.6 305.3,1029.3 305.5,1030.2 305.5,1039 308.6,1039 308.6,1040.5 312.4,1040.5 312.4,1057 315.4,1057 315.4,1061.7 318.4,1061.7 318.4,1070.8 323,1070.8 323,1070 326.7,1070 326.7,1078 328.2,1078 328.2,1075.3 328.4,1074.6 329,1074 329.8,1073.8 330.5,1074 331.1,1074.6 331.3,1075.3 331.3,1079.8 334.3,1079.8 334.3,1066.6 334.6,1065.7 335.3,1065 336.2,1064.7 337.2,1065 337.8,1065.7 338.1,1066.6 338.1,1070 339.6,1070 339.6,1060 339.9,1059 340.7,1058.2 341.7,1057.9 342.8,1058.2 343.5,1059 343.8,1060 343.8,1069.3 345.6,1069.3 345.6,1085.1 348.7,1085.1 348.7,1074.6 350.9,1074.6 350.9,1068.9 351.2,1068 351.8,1067.3 352.8,1067 353.7,1067.3 354.4,1068 354.7,1068.9 354.7,1074.5 357.5,1074.5 357.5,1083.7 360.9,1083.7 360.9,1089.6 362.6,1089.6 362.6,1082.4 362.8,1081.6 363.4,1081 364.2,1080.8 365.1,1081 365.7,1081.6 365.9,1082.4 365.9,1086 369.3,1086 369.3,1082.9 369.6,1081.8 370.3,1081.1 371.4,1080.8 372.4,1081.1 373.2,1081.8 373.5,1082.9 373.5,1100.5 375.2,1100.5 375.2,1090.4 381.9,1090.4 381.9,1086.3 382.3,1084.7 383.6,1083.4 385.2,1083 386.9,1083.4 388.2,1084.7 388.6,1086.3 388.6,1096 394.5,1096 394.5,1103.9 397,1103.9 397,1094.6 401.2,1094.6 401.2,1093.8 401.5,1092.6 402.5,1091.6 403.8,1091.3 405,1091.6 406,1092.6 406.3,1093.8 406.3,1099.7 410.5,1099.7 410.5,1100.5 418.9,1100.5 418.9,1095.9 419.2,1094.9 419.9,1094.1 421,1093.8 422.1,1094.1 422.8,1094.9 423.1,1095.9 423.1,1110.6 425.6,1110.6 425.6,1096.3 425.8,1095.5 426.4,1094.8 427.3,1094.6 428.1,1094.8 428.8,1095.5 429,1096.3 429,1098.8 431.5,1098.8 431.5,1091.2 431.8,1090 432.8,1089 434,1088.7 435.2,1089 436.2,1090 436.5,1091.2 436.5,1093.8 440.7,1093.8 440.7,1100.5 442.4,1100.5 442.4,1100 445.8,1100 445.8,1137.5 442.4,1137 422.2,1133.8 405.4,1132.1 386.9,1128.7 371.8,1125.4 355,1120.3 345.6,1116 338.1,1113.5 330.5,1112 323,1107.5 315.4,1103 307.8,1097.5 300.3,1090 295.7,1083.6 285.9,1069.3 282.1,1059.4 275.3,1054 271,1054 271,1040 266,1040 266,1008 260.3,1008 260.3,973 257.9,973 257.9,1050 254.5,1050 254.5,1009 252.6,1009 252.6,981 250.2,981" fill="#000000"/>
<line x1="256.3" y1="828" x2="256.3" y2="900" stroke="#000000" stroke-width="4.2" stroke-linecap="round"/>
<line x1="443.9" y1="859.4" x2="443.9" y2="1120" stroke="#000000" stroke-width="4.2" stroke-linecap="round"/>
<path d="M443.9,1126 C444.1,1126.8 444.1,1128 445,1131 C445.9,1134 446.9,1140.5 449.1,1144.2 C451.3,1147.9 454.6,1150.5 458.1,1153.3 C461.6,1156.1 465.6,1158 470.2,1160.8 C474.8,1163.6 480.3,1166.6 485.4,1169.9 C490.4,1173.2 495.5,1176.7 500.5,1180.5 C505.5,1184.3 510.6,1188.3 515.6,1192.6 C520.6,1196.9 525.7,1201.7 530.7,1206.2 C535.8,1210.7 540.9,1215 545.9,1219.8 C550.9,1224.6 556,1230.4 561,1234.9 C566,1239.4 571.1,1243 576.1,1247 C581.1,1251 586.2,1255.6 591.2,1259.1 C596.2,1262.6 601.4,1265.4 606.4,1268.2 C611.4,1271 616.5,1273.3 621.5,1275.8 C626.5,1278.3 631.6,1281 636.6,1283.3 C641.6,1285.6 644.1,1286.4 651.7,1289.4 C659.3,1292.4 671.9,1297.7 682,1301.5 C692.1,1305.3 702.1,1308.8 712.2,1312.1 C722.3,1315.4 732.4,1318.1 742.5,1321.1 C752.6,1324.1 761.4,1327 772.7,1330 C784,1333 798.9,1336.3 810.2,1339.3 C821.5,1342.3 830.4,1345.5 840.5,1348 C850.6,1350.5 862,1352.7 870.7,1354.4 C879.4,1356.2 882.4,1356.5 892.5,1358.5 C902.6,1360.5 919.7,1364.2 931.2,1366.5 C942.7,1368.8 951.4,1370.7 961.5,1372.6 C971.6,1374.5 981.8,1376.1 991.7,1377.7 C1001.6,1379.3 1011,1380.6 1021.1,1382 C1031.2,1383.4 1042,1384.8 1052.2,1386.2 C1062.4,1387.7 1070.2,1388.8 1082.5,1390.7 C1094.8,1392.6 1119,1396.3 1126.3,1397.4" fill="none" stroke="#000000" stroke-width="4.6" stroke-linejoin="round" stroke-linecap="round"/>
<rect x="955.8" y="813.5" width="193.9" height="224.2" rx="7.5" ry="7.5" fill="#ffffff" fill-opacity="0.8" stroke="#cccccc" stroke-width="1.6"/>
<line x1="969" y1="841.2" x2="1048.2" y2="841.2" stroke="#0000ff" stroke-width="4.2"/>
<text x="1077" y="853.8" font-family="'Liberation Serif', serif" font-style="italic" font-size="36">L<tspan font-size="27.5" dy="5.8" dx="0.5">BC</tspan></text>
<line x1="969" y1="894.7" x2="1048.2" y2="894.7" stroke="#008000" stroke-width="4.2"/>
<text x="1077" y="907.3" font-family="'Liberation Serif', serif" font-style="italic" font-size="36">L<tspan font-size="27.5" dy="5.8" dx="0.5">GE</tspan></text>
<line x1="969" y1="948.2" x2="1048.2" y2="948.2" stroke="#ff0000" stroke-width="4.2"/>
<text x="1077" y="960.8" font-family="'Liberation Serif', serif" font-style="italic" font-size="36">L<tspan font-size="27.5" dy="5.8" dx="0.5">PT</tspan></text>
<line x1="969" y1="1001.4" x2="1048.2" y2="1001.4" stroke="#000000" stroke-width="4.2"/>
<text x="1077" y="1014" font-family="'Liberation Serif', serif" font-style="italic" font-size="36">L<tspan font-size="27.5" dy="5.8" dx="0.5">Tot</tspan></text>
<rect x="208.5" y="794.6" width="960.4" height="715.7" fill="none" stroke="#000" stroke-width="2.2"/>
<line x1="251.8" y1="1510.3" x2="251.8" y2="1519.8" stroke="#000" stroke-width="2"/>
<text transform="translate(251.8,1552.1) scale(1,1.065)" font-family="'Liberation Serif', serif" font-size="32" text-anchor="middle">0</text>
<line x1="379.9" y1="1510.3" x2="379.9" y2="1519.8" stroke="#000" stroke-width="2"/>
<text transform="translate(379.9,1552.1) scale(1,1.065)" font-family="'Liberation Serif', serif" font-size="32" text-anchor="middle">10000</text>
<line x1="508" y1="1510.3" x2="508" y2="1519.8" stroke="#000" stroke-width="2"/>
<text transform="translate(508,1552.1) scale(1,1.065)" font-family="'Liberation Serif', serif" font-size="32" text-anchor="middle">20000</text>
<line x1="636" y1="1510.3" x2="636" y2="1519.8" stroke="#000" stroke-width="2"/>
<text transform="translate(636,1552.1) scale(1,1.065)" font-family="'Liberation Serif', serif" font-size="32" text-anchor="middle">30000</text>
<line x1="764.1" y1="1510.3" x2="764.1" y2="1519.8" stroke="#000" stroke-width="2"/>
<text transform="translate(764.1,1552.1) scale(1,1.065)" font-family="'Liberation Serif', serif" font-size="32" text-anchor="middle">40000</text>
<line x1="892.1" y1="1510.3" x2="892.1" y2="1519.8" stroke="#000" stroke-width="2"/>
<text transform="translate(892.1,1552.1) scale(1,1.065)" font-family="'Liberation Serif', serif" font-size="32" text-anchor="middle">50000</text>
<line x1="1020.2" y1="1510.3" x2="1020.2" y2="1519.8" stroke="#000" stroke-width="2"/>
<text transform="translate(1020.2,1552.1) scale(1,1.065)" font-family="'Liberation Serif', serif" font-size="32" text-anchor="middle">60000</text>
<line x1="1148.2" y1="1510.3" x2="1148.2" y2="1519.8" stroke="#000" stroke-width="2"/>
<text transform="translate(1148.2,1552.1) scale(1,1.065)" font-family="'Liberation Serif', serif" font-size="32" text-anchor="middle">70000</text>
<line x1="199" y1="881.5" x2="208.5" y2="881.5" stroke="#000" stroke-width="2"/>
<text transform="translate(190.2,877.2) scale(1,1.065)" font-family="'Liberation Serif', serif" font-size="22.4" text-anchor="end">0</text>
<text transform="translate(178.8,897.1) scale(1,1.065)" font-family="'Liberation Serif', serif" font-size="32" text-anchor="end">10</text>
<line x1="203" y1="847.9" x2="208.5" y2="847.9" stroke="#000" stroke-width="1.6"/>
<line x1="203" y1="828.3" x2="208.5" y2="828.3" stroke="#000" stroke-width="1.6"/>
<line x1="203" y1="814.4" x2="208.5" y2="814.4" stroke="#000" stroke-width="1.6"/>
<line x1="203" y1="803.6" x2="208.5" y2="803.6" stroke="#000" stroke-width="1.6"/>
<line x1="203" y1="794.7" x2="208.5" y2="794.7" stroke="#000" stroke-width="1.6"/>
<line x1="199" y1="993" x2="208.5" y2="993" stroke="#000" stroke-width="2"/>
<text transform="translate(190.2,988.7) scale(1,1.065)" font-family="'Liberation Serif', serif" font-size="22.4" text-anchor="end">−1</text>
<text transform="translate(167.8,1008.6) scale(1,1.065)" font-family="'Liberation Serif', serif" font-size="32" text-anchor="end">10</text>
<line x1="203" y1="959.4" x2="208.5" y2="959.4" stroke="#000" stroke-width="1.6"/>
<line x1="203" y1="939.8" x2="208.5" y2="939.8" stroke="#000" stroke-width="1.6"/>
<line x1="203" y1="925.9" x2="208.5" y2="925.9" stroke="#000" stroke-width="1.6"/>
<line x1="203" y1="915.1" x2="208.5" y2="915.1" stroke="#000" stroke-width="1.6"/>
<line x1="203" y1="906.2" x2="208.5" y2="906.2" stroke="#000" stroke-width="1.6"/>
<line x1="203" y1="898.8" x2="208.5" y2="898.8" stroke="#000" stroke-width="1.6"/>
<line x1="203" y1="892.3" x2="208.5" y2="892.3" stroke="#000" stroke-width="1.6"/>
<line x1="203" y1="886.6" x2="208.5" y2="886.6" stroke="#000" stroke-width="1.6"/>
<line x1="199" y1="1104.5" x2="208.5" y2="1104.5" stroke="#000" stroke-width="2"/>
<text transform="translate(190.2,1100.2) scale(1,1.065)" font-family="'Liberation Serif', serif" font-size="22.4" text-anchor="end">−2</text>
<text transform="translate(167.8,1120.1) scale(1,1.065)" font-family="'Liberation Serif', serif" font-size="32" text-anchor="end">10</text>
<line x1="203" y1="1070.9" x2="208.5" y2="1070.9" stroke="#000" stroke-width="1.6"/>
<line x1="203" y1="1051.3" x2="208.5" y2="1051.3" stroke="#000" stroke-width="1.6"/>
<line x1="203" y1="1037.4" x2="208.5" y2="1037.4" stroke="#000" stroke-width="1.6"/>
<line x1="203" y1="1026.6" x2="208.5" y2="1026.6" stroke="#000" stroke-width="1.6"/>
<line x1="203" y1="1017.7" x2="208.5" y2="1017.7" stroke="#000" stroke-width="1.6"/>
<line x1="203" y1="1010.3" x2="208.5" y2="1010.3" stroke="#000" stroke-width="1.6"/>
<line x1="203" y1="1003.8" x2="208.5" y2="1003.8" stroke="#000" stroke-width="1.6"/>
<line x1="203" y1="998.1" x2="208.5" y2="998.1" stroke="#000" stroke-width="1.6"/>
<line x1="199" y1="1216" x2="208.5" y2="1216" stroke="#000" stroke-width="2"/>
<text transform="translate(190.2,1211.7) scale(1,1.065)" font-family="'Liberation Serif', serif" font-size="22.4" text-anchor="end">−3</text>
<text transform="translate(167.8,1231.6) scale(1,1.065)" font-family="'Liberation Serif', serif" font-size="32" text-anchor="end">10</text>
<line x1="203" y1="1182.4" x2="208.5" y2="1182.4" stroke="#000" stroke-width="1.6"/>
<line x1="203" y1="1162.8" x2="208.5" y2="1162.8" stroke="#000" stroke-width="1.6"/>
<line x1="203" y1="1148.9" x2="208.5" y2="1148.9" stroke="#000" stroke-width="1.6"/>
<line x1="203" y1="1138.1" x2="208.5" y2="1138.1" stroke="#000" stroke-width="1.6"/>
<line x1="203" y1="1129.2" x2="208.5" y2="1129.2" stroke="#000" stroke-width="1.6"/>
<line x1="203" y1="1121.8" x2="208.5" y2="1121.8" stroke="#000" stroke-width="1.6"/>
<line x1="203" y1="1115.3" x2="208.5" y2="1115.3" stroke="#000" stroke-width="1.6"/>
<line x1="203" y1="1109.6" x2="208.5" y2="1109.6" stroke="#000" stroke-width="1.6"/>
<line x1="199" y1="1327.5" x2="208.5" y2="1327.5" stroke="#000" stroke-width="2"/>
<text transform="translate(190.2,1323.2) scale(1,1.065)" font-family="'Liberation Serif', serif" font-size="22.4" text-anchor="end">−4</text>
<text transform="translate(167.8,1343.1) scale(1,1.065)" font-family="'Liberation Serif', serif" font-size="32" text-anchor="end">10</text>
<line x1="203" y1="1293.9" x2="208.5" y2="1293.9" stroke="#000" stroke-width="1.6"/>
<line x1="203" y1="1274.3" x2="208.5" y2="1274.3" stroke="#000" stroke-width="1.6"/>
<line x1="203" y1="1260.4" x2="208.5" y2="1260.4" stroke="#000" stroke-width="1.6"/>
<line x1="203" y1="1249.6" x2="208.5" y2="1249.6" stroke="#000" stroke-width="1.6"/>
<line x1="203" y1="1240.7" x2="208.5" y2="1240.7" stroke="#000" stroke-width="1.6"/>
<line x1="203" y1="1233.3" x2="208.5" y2="1233.3" stroke="#000" stroke-width="1.6"/>
<line x1="203" y1="1226.8" x2="208.5" y2="1226.8" stroke="#000" stroke-width="1.6"/>
<line x1="203" y1="1221.1" x2="208.5" y2="1221.1" stroke="#000" stroke-width="1.6"/>
<line x1="199" y1="1439" x2="208.5" y2="1439" stroke="#000" stroke-width="2"/>
<text transform="translate(190.2,1434.7) scale(1,1.065)" font-family="'Liberation Serif', serif" font-size="22.4" text-anchor="end">−5</text>
<text transform="translate(167.8,1454.6) scale(1,1.065)" font-family="'Liberation Serif', serif" font-size="32" text-anchor="end">10</text>
<line x1="203" y1="1405.4" x2="208.5" y2="1405.4" stroke="#000" stroke-width="1.6"/>
<line x1="203" y1="1385.8" x2="208.5" y2="1385.8" stroke="#000" stroke-width="1.6"/>
<line x1="203" y1="1371.9" x2="208.5" y2="1371.9" stroke="#000" stroke-width="1.6"/>
<line x1="203" y1="1361.1" x2="208.5" y2="1361.1" stroke="#000" stroke-width="1.6"/>
<line x1="203" y1="1352.2" x2="208.5" y2="1352.2" stroke="#000" stroke-width="1.6"/>
<line x1="203" y1="1344.8" x2="208.5" y2="1344.8" stroke="#000" stroke-width="1.6"/>
<line x1="203" y1="1338.3" x2="208.5" y2="1338.3" stroke="#000" stroke-width="1.6"/>
<line x1="203" y1="1332.6" x2="208.5" y2="1332.6" stroke="#000" stroke-width="1.6"/>
<line x1="203" y1="1497.3" x2="208.5" y2="1497.3" stroke="#000" stroke-width="1.6"/>
<line x1="203" y1="1483.4" x2="208.5" y2="1483.4" stroke="#000" stroke-width="1.6"/>
<line x1="203" y1="1472.6" x2="208.5" y2="1472.6" stroke="#000" stroke-width="1.6"/>
<line x1="203" y1="1463.7" x2="208.5" y2="1463.7" stroke="#000" stroke-width="1.6"/>
<line x1="203" y1="1456.3" x2="208.5" y2="1456.3" stroke="#000" stroke-width="1.6"/>
<line x1="203" y1="1449.8" x2="208.5" y2="1449.8" stroke="#000" stroke-width="1.6"/>
<line x1="203" y1="1444.1" x2="208.5" y2="1444.1" stroke="#000" stroke-width="1.6"/>
<text x="688.7" y="1599.3" font-family="'Liberation Serif', serif" font-size="43.5" text-anchor="middle">Iteration</text>
<text transform="translate(114,1153.5) rotate(-90)" font-family="'Liberation Serif', serif" font-size="43.5" text-anchor="middle">Loss</text>
<text x="5.8" y="900.5" font-family="'Liberation Serif', serif" font-size="40">b)</text>
<line x1="250.1" y1="1655.5" x2="250.1" y2="2384.7" stroke="#a3a3a3" stroke-width="2"/>
<line x1="465.2" y1="1655.5" x2="465.2" y2="2384.7" stroke="#a3a3a3" stroke-width="2"/>
<line x1="680.4" y1="1655.5" x2="680.4" y2="2384.7" stroke="#a3a3a3" stroke-width="2"/>
<line x1="895.6" y1="1655.5" x2="895.6" y2="2384.7" stroke="#a3a3a3" stroke-width="2"/>
<line x1="1110.7" y1="1655.5" x2="1110.7" y2="2384.7" stroke="#a3a3a3" stroke-width="2"/>
<line x1="205.8" y1="1748.4" x2="1185.2" y2="1748.4" stroke="#a3a3a3" stroke-width="2"/>
<line x1="205.8" y1="1849" x2="1185.2" y2="1849" stroke="#a3a3a3" stroke-width="2"/>
<line x1="205.8" y1="1949.6" x2="1185.2" y2="1949.6" stroke="#a3a3a3" stroke-width="2"/>
<line x1="205.8" y1="2050.2" x2="1185.2" y2="2050.2" stroke="#a3a3a3" stroke-width="2"/>
<line x1="205.8" y1="2150.8" x2="1185.2" y2="2150.8" stroke="#a3a3a3" stroke-width="2"/>
<line x1="205.8" y1="2251.4" x2="1185.2" y2="2251.4" stroke="#a3a3a3" stroke-width="2"/>
<line x1="205.8" y1="2352" x2="1185.2" y2="2352" stroke="#a3a3a3" stroke-width="2"/>
<path d="M250.9,1990 C251,2001.7 251,2045.1 251.3,2060 C251.6,2074.9 252.4,2076.2 252.6,2079.4" fill="none" stroke="#0000ff" stroke-width="3" stroke-linejoin="round" stroke-linecap="round"/>
<polygon points="251.5,2068 259,2076 265.9,2082 270,2088 274,2100 279,2108 288,2112 298.5,2115.5 306,2117 320,2120 330,2123 345.1,2130 360.3,2135 371.6,2140 383,2145.5 394.3,2151.5 405.6,2157 413.8,2160 413.8,2187.3 410.3,2185.8 403,2180 393.7,2172 379.2,2164.8 371.6,2159.5 360.3,2155 348.9,2150.4 337.6,2144.4 330,2139.8 320,2134.5 309,2131.5 298.5,2129.2 291.3,2126.3 284,2124.9 280,2122.9 276,2121.5 273.9,2118.1 272,2112.6 271,2110 269,2100.7 268.1,2106 266.6,2101.7 265.2,2097 262.3,2096 259.4,2092 255,2088 252.6,2079.4" fill="#0000ff"/>
<path d="M411.6,2169.2 C411.8,2171.8 412.5,2179.2 413,2185 C413.5,2190.8 414.2,2199.4 414.8,2204.3 C415.4,2209.2 416,2211.3 416.8,2214.5 C417.6,2217.7 418.4,2220.7 419.6,2223.4 C420.8,2226.1 422.4,2228.4 424,2230.5 C425.6,2232.6 427.4,2234.5 429.2,2236.2 C431,2237.9 432.9,2239.2 435,2240.5 C437.1,2241.8 438.1,2242.5 441.9,2244.2 C445.7,2245.9 452.6,2248.5 457.9,2250.6 C463.2,2252.7 465.9,2253.8 473.9,2257 C481.9,2260.2 495.2,2265.7 505.8,2269.7 C516.4,2273.7 527.1,2277.7 537.7,2280.9 C548.3,2284.1 559,2286.5 569.6,2288.9 C580.2,2291.3 591,2293.3 601.6,2295.3 C612.2,2297.3 622.9,2299.3 633.5,2300.7 C644.1,2302.1 654.8,2302.9 665.4,2303.9 C676,2304.9 686.8,2305.9 697.4,2306.5 C708,2307.1 718.7,2307.2 729.3,2307.4 C739.9,2307.7 751.1,2307.8 761.2,2308 C771.3,2308.2 776.5,2308.3 790,2308.7 C803.5,2309.1 824.5,2309.9 842.2,2310.4 C859.9,2310.9 880.5,2311.4 896,2311.9 C911.5,2312.4 921.1,2312.9 935.5,2313.5 C949.9,2314.1 966.6,2315.1 982.1,2315.7 C997.6,2316.3 1013.2,2316.7 1028.8,2317.2 C1044.3,2317.7 1061.7,2318.4 1075.4,2318.8 C1089.1,2319.2 1100.1,2319.4 1111.2,2319.7 C1122.3,2320 1137,2320.4 1142.2,2320.6" fill="none" stroke="#0000ff" stroke-width="4.6" stroke-linejoin="round" stroke-linecap="round"/>
<path d="M250.6,1995 C250.6,2005.8 250.7,2039.7 250.8,2060 C250.9,2080.3 250.8,2099.3 251.1,2117.1 C251.4,2134.8 252,2151.8 252.6,2166.5 C253.2,2181.2 253.7,2192.3 254.5,2205.2 C255.3,2218.1 256.4,2233.5 257.4,2244 C258.4,2254.5 259.5,2261.7 260.3,2268.1 C261.1,2274.5 262,2280.3 262.3,2282.7" fill="none" stroke="#008000" stroke-width="3.8" stroke-linejoin="round" stroke-linecap="round"/>
<polygon points="260.5,2275.9 267.5,2277.3 267.5,2273.1 270.3,2273.1 270.3,2196.8 273.7,2196.8 273.7,2244 277.2,2244 277.2,2198.2 281.3,2198.2 281.3,2192.7 289,2192.7 289,2214.9 292.4,2214.9 292.4,2231.5 296.6,2231.5 296.6,2235.7 299.4,2235.7 299.4,2205 302.8,2205 302.8,2201 310.5,2201 310.5,2238.4 313.2,2238.4 313.2,2209.3 316,2209.3 316,2223.2 318.8,2223.2 318.8,2207.9 322.9,2207.9 322.9,2230.1 326.4,2230.1 326.4,2202.4 330.6,2202.4 330.6,2220.4 334.7,2220.4 334.7,2228.7 338.2,2228.7 338.2,2213.5 343.7,2213.5 343.7,2221.8 354.8,2221.8 354.8,2223.2 368.7,2223.2 368.7,2226 379.8,2226 379.8,2227.4 393.7,2227.4 393.7,2210.7 399.2,2210.7 399.2,2228.7 408.9,2228.7 408.9,2207.9 413.8,2207.9 413.8,2250 413.8,2267.4 410.7,2267.4 410.7,2271.8 407.9,2271.8 407.9,2272.1 404.6,2272.1 404.6,2271.5 401.4,2271.5 401.4,2272.7 399.1,2272.7 399.1,2272.5 396.1,2272.5 396.1,2269.5 393.4,2269.5 393.4,2267.9 390.4,2267.9 390.4,2268.4 387.7,2268.4 387.7,2270.9 384.9,2270.9 384.9,2267.3 381.6,2267.3 381.6,2272.6 378.9,2272.6 378.9,2270.4 375.4,2270.4 375.4,2271.3 372.4,2271.3 372.4,2270.6 370.1,2270.6 370.1,2265.4 367.9,2265.4 367.9,2270 364.9,2270 364.9,2270 363.1,2270 363.1,2270 360.9,2270 360.9,2268.5 357.6,2268.5 357.6,2270 354.2,2270 354.2,2271.9 350.9,2271.9 350.9,2274.5 347.9,2274.5 347.9,2276.7 345.7,2276.7 345.7,2281.6 343.2,2281.6 343.2,2285.4 340.6,2285.4 340.6,2292.7 337.2,2292.7 337.2,2296.2 334.4,2296.2 334.4,2298 331,2298 331,2302 328.1,2302 328.1,2303.5 325,2303.5 325,2303.9 323.2,2303.9 323.2,2305.7 321.1,2305.7 321.1,2306.4 318.2,2306.4 318.2,2306.2 315.2,2306.2 315.2,2304 312.6,2304 312.6,2308.6 310.7,2308.6 310.7,2305.8 307.8,2305.8 307.8,2309.9 305.8,2309.9 305.8,2319.1 302.5,2319.1 302.5,2328.5 299.6,2328.5 299.6,2340.8 297.7,2340.8 297.7,2346.4 294.4,2346.4 294.4,2348.7 291.4,2348.7 291.4,2344 288.4,2344 288.4,2344.4 285.1,2344.4 285.1,2347.8 282,2347.8 282,2337.9 279.1,2337.9 279.1,2341.9 276,2341.9 276,2338.9 274,2338.9 274,2330.2 271,2330.2 271,2323.2 268,2323.2 268,2316.8 265,2316.8 265,2316.3 262.9,2316.3 262.9,2308.6 260.5,2308.6" fill="#008000"/>
<line x1="300.8" y1="2117" x2="300.8" y2="2205" stroke="#008000" stroke-width="4" stroke-linecap="round"/>
<path d="M413.8,2254 C414,2254.2 413.3,2255.2 414.8,2255.4 C416.3,2255.6 419.9,2256.1 422.8,2255.4 C425.7,2254.8 429.2,2252.8 432.4,2251.5 C435.6,2250.2 437.6,2248.9 441.9,2247.4 C446.1,2245.9 452.6,2244.1 457.9,2242.6 C463.2,2241.1 465.9,2239.7 473.9,2238.4 C481.9,2237.1 495.2,2235.4 505.8,2234.6 C516.4,2233.8 527.1,2233.8 537.7,2233.7 C548.3,2233.5 559,2233.4 569.6,2233.7 C580.2,2234 591,2235.1 601.6,2235.6 C612.2,2236.1 622.9,2236.2 633.5,2236.8 C644.1,2237.4 654.8,2238.4 665.4,2239.4 C676,2240.4 686.8,2241.7 697.4,2242.6 C708,2243.5 718.7,2244 729.3,2245.1 C739.9,2246.2 751.1,2247.8 761.2,2249 C771.3,2250.2 781.7,2251.1 790,2252.3 C798.3,2253.5 802.4,2254.8 811.1,2256 C819.8,2257.2 828.1,2258.3 842.2,2259.7 C856.4,2261.1 880.5,2263.1 896,2264.4 C911.5,2265.8 921.1,2266.6 935.5,2267.8 C949.9,2269 966.6,2270.2 982.1,2271.5 C997.6,2272.8 1013.2,2274.3 1028.8,2275.6 C1044.3,2276.9 1061.7,2278.3 1075.4,2279.3 C1089.1,2280.3 1100.1,2280.9 1111.2,2281.5 C1122.3,2282.1 1137,2282.8 1142.2,2283" fill="none" stroke="#008000" stroke-width="4.6" stroke-linejoin="round" stroke-linecap="round"/>
<line x1="250.4" y1="2118.1" x2="250.4" y2="2232.3" stroke="#ff0000" stroke-width="3.8" stroke-linecap="round"/>
<polyline points="250.4,2164.5 268.1,2164.5" fill="none" stroke="#ff0000" stroke-width="3.6" stroke-linejoin="round" stroke-linecap="round"/>
<line x1="272" y1="2153" x2="272" y2="2170" stroke="#ff0000" stroke-width="4" stroke-linecap="round"/>
<polygon points="268.1,2157.4 269.6,2157.4 269.6,2164.7 271.7,2164.7 271.7,2157.1 273.4,2157.1 273.4,2158.4 276,2158.4 276,2166.3 278.6,2166.3 278.6,2164.4 280.9,2164.4 280.9,2160.4 283.9,2160.4 283.9,2166.1 285.5,2166.1 285.5,2162.8 287.3,2162.8 287.3,2169.5 289.3,2169.5 289.3,2167.5 291.1,2167.5 291.1,2169.1 294.1,2169.1 294.1,2165.3 295.9,2165.3 295.9,2166.3 297.4,2166.3 297.4,2161.6 299.9,2161.6 299.9,2164.5 302.6,2164.5 302.6,2158.9 305,2158.9 305,2159.8 306.6,2159.8 306.6,2166.4 308.6,2166.4 308.6,2170.7 311.4,2170.7 311.4,2178.6 314.3,2178.6 314.3,2178.8 316.1,2178.8 316.1,2177.5 318.6,2177.5 318.6,2181.7 320.4,2181.7 320.4,2180.8 323,2180.8 323,2184.8 325.1,2184.8 325.1,2184.6 328,2184.6 328,2189.8 330.2,2189.8 330.2,2193.5 332.9,2193.5 332.9,2195.1 334.6,2195.1 334.6,2191 336.3,2191 336.3,2195.7 338.9,2195.7 338.9,2198.7 341.2,2198.7 341.2,2198.3 343.2,2198.3 343.2,2197.6 344.8,2197.6 344.8,2200.3 346.5,2200.3 346.5,2203.2 349.4,2203.2 349.4,2203.2 352.1,2203.2 352.1,2204 353.6,2204 353.6,2200.2 355.4,2200.2 355.4,2206.1 357.1,2206.1 357.1,2200.9 359.5,2200.9 359.5,2205.6 361.3,2205.6 361.3,2203.7 363,2203.7 363,2206.1 365.3,2206.1 365.3,2206.4 367.6,2206.4 367.6,2209 370.2,2209 370.2,2206 371.9,2206 371.9,2207.6 374.8,2207.6 374.8,2210.9 376.5,2210.9 376.5,2206 378.7,2206 378.7,2206.5 380.8,2206.5 380.8,2209.7 382.9,2209.7 382.9,2209 384.8,2209 384.8,2207.9 387.5,2207.9 387.5,2212.8 389.9,2212.8 389.9,2212.6 391.7,2212.6 391.7,2212.9 393.8,2212.9 393.8,2209.7 395.6,2209.7 395.6,2213.7 397.6,2213.7 397.6,2210.6 400.3,2210.6 400.3,2214.1 402.2,2214.1 402.2,2215.8 404.4,2215.8 404.4,2212.6 406.2,2212.6 406.2,2213.3 408.4,2213.3 408.4,2214.1 410.6,2214.1 410.6,2215.9 412.1,2215.9 412.1,2217.2 413.5,2217.2 413.5,2228.5 411.6,2228.5 411.6,2231.6 409.3,2231.6 409.3,2228.2 407.5,2228.2 407.5,2226.7 404.6,2226.7 404.6,2230.6 401.8,2230.6 401.8,2225.7 400.2,2225.7 400.2,2230.1 398.4,2230.1 398.4,2229.8 396.7,2229.8 396.7,2226.8 394.5,2226.8 394.5,2225.6 391.9,2225.6 391.9,2229 390.1,2229 390.1,2227.4 388.6,2227.4 388.6,2224.9 385.6,2224.9 385.6,2223.6 383,2223.6 383,2228.2 381.2,2228.2 381.2,2227.9 379.4,2227.9 379.4,2227.7 377.1,2227.7 377.1,2227.2 375.5,2227.2 375.5,2225.3 372.6,2225.3 372.6,2223.3 370.9,2223.3 370.9,2225.8 368.6,2225.8 368.6,2220.9 367.1,2220.9 367.1,2224.5 364.9,2224.5 364.9,2219.9 362,2219.9 362,2224.1 360.3,2224.1 360.3,2219.8 357.8,2219.8 357.8,2221.5 356.3,2221.5 356.3,2217.9 354.8,2217.9 354.8,2221.4 351.9,2221.4 351.9,2218.2 349.2,2218.2 349.2,2215.1 346.7,2215.1 346.7,2213.1 344.9,2213.1 344.9,2218.3 343.3,2218.3 343.3,2213.5 340.3,2213.5 340.3,2215.6 337.7,2215.6 337.7,2213.7 334.7,2213.7 334.7,2212.6 333.2,2212.6 333.2,2211.6 331.5,2211.6 331.5,2208 329.1,2208 329.1,2205.8 327.3,2205.8 327.3,2206.2 325.5,2206.2 325.5,2203.5 323.1,2203.5 323.1,2204.7 320.8,2204.7 320.8,2203.8 317.9,2203.8 317.9,2203 316.3,2203 316.3,2197.1 314.4,2197.1 314.4,2195.9 312.8,2195.9 312.8,2201.9 310.2,2201.9 310.2,2197.9 308,2197.9 308,2206.8 305.9,2206.8 305.9,2207.9 304,2207.9 304,2207.4 302.2,2207.4 302.2,2197.7 299.8,2197.7 299.8,2190.6 297.1,2190.6 297.1,2185.9 295.1,2185.9 295.1,2190.4 293.1,2190.4 293.1,2189 291.5,2189 291.5,2188 289.8,2188 289.8,2188.3 286.8,2188.3 286.8,2188.6 285.2,2188.6 285.2,2183.3 282.4,2183.3 282.4,2187.3 280.9,2187.3 280.9,2181.7 279.4,2181.7 279.4,2182.3 276.5,2182.3 276.5,2181.9 274.3,2181.9 274.3,2183.4 271.7,2183.4 271.7,2179 269.7,2179 269.7,2181 268.1,2181" fill="#ff0000"/>
<path d="M411.6,2223.4 C412.4,2224.7 414,2228.7 416.4,2231.4 C418.8,2234.1 421.8,2236.7 426,2239.4 C430.2,2242.1 435.2,2243.9 441.9,2247.4 C448.5,2250.9 457.9,2256.5 465.9,2260.2 C473.9,2263.9 480.5,2266.5 489.8,2269.7 C499.1,2272.9 511.1,2276.1 521.8,2279.3 C532.4,2282.5 543.1,2286.2 553.7,2288.9 C564.3,2291.6 575,2293.2 585.6,2295.3 C596.2,2297.4 606.9,2299.8 617.5,2301.7 C628.1,2303.6 638.9,2304.9 649.5,2306.5 C660.1,2308.1 670.8,2309.6 681.4,2311.2 C692,2312.8 702.6,2314.4 713.3,2316 C723.9,2317.6 732.5,2319 745.3,2320.8 C758.1,2322.6 779,2325.4 790,2327 C801,2328.6 802.4,2329.5 811.1,2330.6 C819.8,2331.7 828.1,2332.4 842.2,2333.7 C856.4,2335 880.5,2337.1 896,2338.4 C911.5,2339.7 921.1,2340.5 935.5,2341.5 C949.9,2342.5 966.6,2343.6 982.1,2344.6 C997.6,2345.6 1013.2,2346.8 1028.8,2347.7 C1044.3,2348.6 1061.7,2349.3 1075.4,2349.9 C1089.1,2350.5 1100.1,2350.7 1111.2,2351.1 C1122.3,2351.5 1137,2352.2 1142.2,2352.4" fill="none" stroke="#ff0000" stroke-width="4.6" stroke-linejoin="round" stroke-linecap="round"/>
<path d="M250.7,1689 C250.7,1724.2 250.6,1849.8 250.7,1900 C250.8,1950.2 250.7,1970 251,1990 C251.3,2010 252.1,2013 252.5,2020 C252.9,2027 253.1,2027.7 253.5,2031.7 C253.9,2035.8 254.4,2038.9 255,2044.3 C255.6,2049.7 256.3,2058.6 257,2064 C257.7,2069.4 258.6,2074.3 259.4,2077 C260.2,2079.7 261.6,2079.5 262,2080" fill="none" stroke="#000000" stroke-width="4.6" stroke-linejoin="round" stroke-linecap="round"/>
<polygon points="260.4,2038.5 263.7,2038.5 263.7,2024.7 267.3,2024.7 267.3,1995.7 270.2,1995.7 270.2,1968.9 270.4,1968 271.1,1967.3 272,1967.1 273,1967.3 273.7,1968 273.9,1968.9 273.9,1976.9 276.8,1976.9 276.8,1969.2 277.1,1968.2 277.9,1967.4 279,1967.1 280,1967.4 280.8,1968.2 281.1,1969.2 281.1,1979.8 284.8,1979.8 284.8,2007.3 286.9,2007.3 286.9,2001 287.1,2000.1 287.7,1999.5 288.5,1999.3 289.4,1999.5 290,2000.1 290.2,2001 290.2,2034.9 291.3,2034.9 291.3,2008 294.9,2008 294.9,1992.8 298.5,1992.8 298.5,1986.3 300.7,1986.3 300.7,1900.5 301.2,1898.7 302.4,1897.5 304.1,1897 305.9,1897.5 307.1,1898.7 307.6,1900.5 307.6,2021.8 309.4,2021.8 309.4,1980.2 309.6,1979.2 310.3,1978.5 311.2,1978.3 312.2,1978.5 312.9,1979.2 313.1,1980.2 313.1,2027.6 314.1,2027.6 314.1,2021.4 314.4,2020.2 315.3,2019.3 316.5,2019 317.7,2019.3 318.6,2020.2 318.9,2021.4 318.9,2030.6 323.2,2030.6 323.2,2031.3 325.4,2031.3 325.4,2061.8 327.6,2061.8 327.6,2067.6 330,2067.6 330,2075.6 332.3,2075.6 332.3,2068.4 332.6,2067.5 333.3,2066.8 334.2,2066.5 335.2,2066.8 335.8,2067.5 336.1,2068.4 336.1,2071 339.8,2071 339.8,2089.2 342.5,2089.2 342.5,2093.7 344.4,2093.7 344.4,2081.6 350.4,2081.6 350.4,2078.2 350.7,2077.3 351.3,2076.6 352.3,2076.3 353.2,2076.6 353.9,2077.3 354.2,2078.2 354.2,2086.1 356.1,2086.1 356.1,2069.5 358,2069.5 358,2060.1 358.3,2059.2 358.9,2058.5 359.9,2058.2 360.8,2058.5 361.5,2059.2 361.8,2060.1 361.8,2062.7 365.6,2062.7 365.6,2070.3 367.8,2070.3 367.8,2099 370.1,2099 370.1,2059.7 378.4,2059.7 378.4,2083.1 380.3,2083.1 380.3,2069.9 380.6,2069 381.3,2068.3 382.2,2068 383.2,2068.3 383.8,2069 384.1,2069.9 384.1,2108.8 387.5,2108.8 387.5,2075.9 387.8,2075 388.4,2074.3 389.4,2074 390.3,2074.3 391,2075 391.3,2075.9 391.3,2104.3 393.2,2104.3 393.2,2084.1 393.4,2083.2 394,2082.6 394.9,2082.4 395.8,2082.6 396.4,2083.2 396.6,2084.1 396.6,2085.4 400.3,2085.4 400.3,2104.3 402.5,2104.3 402.5,2091.4 404.9,2091.4 404.9,2085 405.2,2084.1 405.8,2083.4 406.8,2083.1 407.7,2083.4 408.4,2084.1 408.7,2085 408.7,2108 410.2,2108 410.2,2071.3 410.4,2070.4 411.1,2069.7 412,2069.5 412.9,2069.7 413.6,2070.4 413.8,2071.3 413.8,2162 405.6,2159.8 394.3,2154.5 383,2148.4 371.6,2143.1 360.3,2137.8 345.1,2132.6 330,2125.7 320.3,2122.2 305.8,2119.3 298.5,2117.8 287.7,2114.2 279,2109.8 273.1,2104 269.5,2090.2 265.9,2084.4 259.4,2080" fill="#000000"/>
<path d="M413.3,2150 C413.4,2151.7 413.3,2155.8 413.8,2160 C414.3,2164.2 415.4,2171.8 416.4,2175.5 C417.4,2179.2 418.4,2179.9 420,2182 C421.6,2184.1 423.8,2186.6 426,2188.3 C428.2,2190 430.4,2190.9 433,2192 C435.6,2193.1 436.4,2193.6 441.9,2194.7 C447.4,2195.8 457.9,2197.4 465.9,2198.5 C473.9,2199.6 480.5,2200.1 489.8,2201.1 C499.1,2202.1 511.1,2203.1 521.8,2204.3 C532.4,2205.5 543.1,2206.8 553.7,2208.1 C564.3,2209.4 575,2211 585.6,2212.3 C596.2,2213.6 606.9,2215.1 617.5,2216.1 C628.1,2217.1 638.9,2217.8 649.5,2218.6 C660.1,2219.4 670.8,2220.3 681.4,2221.2 C692,2222.1 702.6,2223.2 713.3,2224.1 C723.9,2225 732.5,2225.4 745.3,2226.6 C758.1,2227.8 779,2229.8 790,2231 C801,2232.2 802.4,2232.7 811.1,2233.6 C819.8,2234.5 828.1,2235.6 842.2,2236.7 C856.4,2237.8 880.5,2239.3 896,2240.4 C911.5,2241.5 921.1,2242.3 935.5,2243.5 C949.9,2244.7 966.6,2246.2 982.1,2247.3 C997.6,2248.4 1013.2,2249 1028.8,2249.8 C1044.3,2250.6 1061.7,2251.5 1075.4,2252.2 C1089.1,2252.9 1100.1,2253.3 1111.2,2253.8 C1122.3,2254.3 1137,2255.1 1142.2,2255.3" fill="none" stroke="#000000" stroke-width="4.6" stroke-linejoin="round" stroke-linecap="round"/>
<rect x="967.7" y="1675.1" width="198.1" height="227.9" rx="7.5" ry="7.5" fill="#ffffff" fill-opacity="0.8" stroke="#cccccc" stroke-width="1.6"/>
<line x1="981.3" y1="1703.4" x2="1061.9" y2="1703.4" stroke="#0000ff" stroke-width="4.2"/>
<text x="1091" y="1716" font-family="'Liberation Serif', serif" font-style="italic" font-size="36">L<tspan font-size="27.5" dy="5.8" dx="0.5">BC</tspan></text>
<line x1="981.3" y1="1757.8" x2="1061.9" y2="1757.8" stroke="#008000" stroke-width="4.2"/>
<text x="1091" y="1770.4" font-family="'Liberation Serif', serif" font-style="italic" font-size="36">L<tspan font-size="27.5" dy="5.8" dx="0.5">GE</tspan></text>
<line x1="981.3" y1="1812.3" x2="1061.9" y2="1812.3" stroke="#ff0000" stroke-width="4.2"/>
<text x="1091" y="1824.9" font-family="'Liberation Serif', serif" font-style="italic" font-size="36">L<tspan font-size="27.5" dy="5.8" dx="0.5">PT</tspan></text>
<line x1="981.3" y1="1866.7" x2="1061.9" y2="1866.7" stroke="#000000" stroke-width="4.2"/>
<text x="1091" y="1879.3" font-family="'Liberation Serif', serif" font-style="italic" font-size="36">L<tspan font-size="27.5" dy="5.8" dx="0.5">Tot</tspan></text>
<rect x="205.8" y="1655.5" width="979.4" height="729.2" fill="none" stroke="#000" stroke-width="2.2"/>
<line x1="250.1" y1="2384.7" x2="250.1" y2="2394.2" stroke="#000" stroke-width="2"/>
<text transform="translate(250.1,2427.5) scale(1,1.065)" font-family="'Liberation Serif', serif" font-size="32" text-anchor="middle">0</text>
<line x1="465.2" y1="2384.7" x2="465.2" y2="2394.2" stroke="#000" stroke-width="2"/>
<text transform="translate(465.2,2427.5) scale(1,1.065)" font-family="'Liberation Serif', serif" font-size="32" text-anchor="middle">20000</text>
<line x1="680.4" y1="2384.7" x2="680.4" y2="2394.2" stroke="#000" stroke-width="2"/>
<text transform="translate(680.4,2427.5) scale(1,1.065)" font-family="'Liberation Serif', serif" font-size="32" text-anchor="middle">40000</text>
<line x1="895.6" y1="2384.7" x2="895.6" y2="2394.2" stroke="#000" stroke-width="2"/>
<text transform="translate(895.6,2427.5) scale(1,1.065)" font-family="'Liberation Serif', serif" font-size="32" text-anchor="middle">60000</text>
<line x1="1110.7" y1="2384.7" x2="1110.7" y2="2394.2" stroke="#000" stroke-width="2"/>
<text transform="translate(1110.7,2427.5) scale(1,1.065)" font-family="'Liberation Serif', serif" font-size="32" text-anchor="middle">80000</text>
<line x1="196.3" y1="1748.4" x2="205.8" y2="1748.4" stroke="#000" stroke-width="2"/>
<text transform="translate(187.5,1744.1) scale(1,1.065)" font-family="'Liberation Serif', serif" font-size="22.4" text-anchor="end">0</text>
<text transform="translate(176.1,1764) scale(1,1.065)" font-family="'Liberation Serif', serif" font-size="32" text-anchor="end">10</text>
<line x1="200.3" y1="1718.1" x2="205.8" y2="1718.1" stroke="#000" stroke-width="1.6"/>
<line x1="200.3" y1="1700.4" x2="205.8" y2="1700.4" stroke="#000" stroke-width="1.6"/>
<line x1="200.3" y1="1687.8" x2="205.8" y2="1687.8" stroke="#000" stroke-width="1.6"/>
<line x1="200.3" y1="1678.1" x2="205.8" y2="1678.1" stroke="#000" stroke-width="1.6"/>
<line x1="200.3" y1="1670.1" x2="205.8" y2="1670.1" stroke="#000" stroke-width="1.6"/>
<line x1="200.3" y1="1663.4" x2="205.8" y2="1663.4" stroke="#000" stroke-width="1.6"/>
<line x1="200.3" y1="1657.5" x2="205.8" y2="1657.5" stroke="#000" stroke-width="1.6"/>
<line x1="196.3" y1="1849" x2="205.8" y2="1849" stroke="#000" stroke-width="2"/>
<text transform="translate(187.5,1844.7) scale(1,1.065)" font-family="'Liberation Serif', serif" font-size="22.4" text-anchor="end">−1</text>
<text transform="translate(163.6,1864.6) scale(1,1.065)" font-family="'Liberation Serif', serif" font-size="32" text-anchor="end">10</text>
<line x1="200.3" y1="1818.7" x2="205.8" y2="1818.7" stroke="#000" stroke-width="1.6"/>
<line x1="200.3" y1="1801" x2="205.8" y2="1801" stroke="#000" stroke-width="1.6"/>
<line x1="200.3" y1="1788.4" x2="205.8" y2="1788.4" stroke="#000" stroke-width="1.6"/>
<line x1="200.3" y1="1778.7" x2="205.8" y2="1778.7" stroke="#000" stroke-width="1.6"/>
<line x1="200.3" y1="1770.7" x2="205.8" y2="1770.7" stroke="#000" stroke-width="1.6"/>
<line x1="200.3" y1="1764" x2="205.8" y2="1764" stroke="#000" stroke-width="1.6"/>
<line x1="200.3" y1="1758.1" x2="205.8" y2="1758.1" stroke="#000" stroke-width="1.6"/>
<line x1="200.3" y1="1753" x2="205.8" y2="1753" stroke="#000" stroke-width="1.6"/>
<line x1="196.3" y1="1949.6" x2="205.8" y2="1949.6" stroke="#000" stroke-width="2"/>
<text transform="translate(187.5,1945.3) scale(1,1.065)" font-family="'Liberation Serif', serif" font-size="22.4" text-anchor="end">−2</text>
<text transform="translate(163.6,1965.2) scale(1,1.065)" font-family="'Liberation Serif', serif" font-size="32" text-anchor="end">10</text>
<line x1="200.3" y1="1919.3" x2="205.8" y2="1919.3" stroke="#000" stroke-width="1.6"/>
<line x1="200.3" y1="1901.6" x2="205.8" y2="1901.6" stroke="#000" stroke-width="1.6"/>
<line x1="200.3" y1="1889" x2="205.8" y2="1889" stroke="#000" stroke-width="1.6"/>
<line x1="200.3" y1="1879.3" x2="205.8" y2="1879.3" stroke="#000" stroke-width="1.6"/>
<line x1="200.3" y1="1871.3" x2="205.8" y2="1871.3" stroke="#000" stroke-width="1.6"/>
<line x1="200.3" y1="1864.6" x2="205.8" y2="1864.6" stroke="#000" stroke-width="1.6"/>
<line x1="200.3" y1="1858.7" x2="205.8" y2="1858.7" stroke="#000" stroke-width="1.6"/>
<line x1="200.3" y1="1853.6" x2="205.8" y2="1853.6" stroke="#000" stroke-width="1.6"/>
<line x1="196.3" y1="2050.2" x2="205.8" y2="2050.2" stroke="#000" stroke-width="2"/>
<text transform="translate(187.5,2045.9) scale(1,1.065)" font-family="'Liberation Serif', serif" font-size="22.4" text-anchor="end">−3</text>
<text transform="translate(163.6,2065.8) scale(1,1.065)" font-family="'Liberation Serif', serif" font-size="32" text-anchor="end">10</text>
<line x1="200.3" y1="2019.9" x2="205.8" y2="2019.9" stroke="#000" stroke-width="1.6"/>
<line x1="200.3" y1="2002.2" x2="205.8" y2="2002.2" stroke="#000" stroke-width="1.6"/>
<line x1="200.3" y1="1989.6" x2="205.8" y2="1989.6" stroke="#000" stroke-width="1.6"/>
<line x1="200.3" y1="1979.9" x2="205.8" y2="1979.9" stroke="#000" stroke-width="1.6"/>
<line x1="200.3" y1="1971.9" x2="205.8" y2="1971.9" stroke="#000" stroke-width="1.6"/>
<line x1="200.3" y1="1965.2" x2="205.8" y2="1965.2" stroke="#000" stroke-width="1.6"/>
<line x1="200.3" y1="1959.3" x2="205.8" y2="1959.3" stroke="#000" stroke-width="1.6"/>
<line x1="200.3" y1="1954.2" x2="205.8" y2="1954.2" stroke="#000" stroke-width="1.6"/>
<line x1="196.3" y1="2150.8" x2="205.8" y2="2150.8" stroke="#000" stroke-width="2"/>
<text transform="translate(187.5,2146.5) scale(1,1.065)" font-family="'Liberation Serif', serif" font-size="22.4" text-anchor="end">−4</text>
<text transform="translate(163.6,2166.4) scale(1,1.065)" font-family="'Liberation Serif', serif" font-size="32" text-anchor="end">10</text>
<line x1="200.3" y1="2120.5" x2="205.8" y2="2120.5" stroke="#000" stroke-width="1.6"/>
<line x1="200.3" y1="2102.8" x2="205.8" y2="2102.8" stroke="#000" stroke-width="1.6"/>
<line x1="200.3" y1="2090.2" x2="205.8" y2="2090.2" stroke="#000" stroke-width="1.6"/>
<line x1="200.3" y1="2080.5" x2="205.8" y2="2080.5" stroke="#000" stroke-width="1.6"/>
<line x1="200.3" y1="2072.5" x2="205.8" y2="2072.5" stroke="#000" stroke-width="1.6"/>
<line x1="200.3" y1="2065.8" x2="205.8" y2="2065.8" stroke="#000" stroke-width="1.6"/>
<line x1="200.3" y1="2059.9" x2="205.8" y2="2059.9" stroke="#000" stroke-width="1.6"/>
<line x1="200.3" y1="2054.8" x2="205.8" y2="2054.8" stroke="#000" stroke-width="1.6"/>
<line x1="196.3" y1="2251.4" x2="205.8" y2="2251.4" stroke="#000" stroke-width="2"/>
<text transform="translate(187.5,2247.1) scale(1,1.065)" font-family="'Liberation Serif', serif" font-size="22.4" text-anchor="end">−5</text>
<text transform="translate(163.6,2267) scale(1,1.065)" font-family="'Liberation Serif', serif" font-size="32" text-anchor="end">10</text>
<line x1="200.3" y1="2221.1" x2="205.8" y2="2221.1" stroke="#000" stroke-width="1.6"/>
<line x1="200.3" y1="2203.4" x2="205.8" y2="2203.4" stroke="#000" stroke-width="1.6"/>
<line x1="200.3" y1="2190.8" x2="205.8" y2="2190.8" stroke="#000" stroke-width="1.6"/>
<line x1="200.3" y1="2181.1" x2="205.8" y2="2181.1" stroke="#000" stroke-width="1.6"/>
<line x1="200.3" y1="2173.1" x2="205.8" y2="2173.1" stroke="#000" stroke-width="1.6"/>
<line x1="200.3" y1="2166.4" x2="205.8" y2="2166.4" stroke="#000" stroke-width="1.6"/>
<line x1="200.3" y1="2160.5" x2="205.8" y2="2160.5" stroke="#000" stroke-width="1.6"/>
<line x1="200.3" y1="2155.4" x2="205.8" y2="2155.4" stroke="#000" stroke-width="1.6"/>
<line x1="196.3" y1="2352" x2="205.8" y2="2352" stroke="#000" stroke-width="2"/>
<text transform="translate(187.5,2347.7) scale(1,1.065)" font-family="'Liberation Serif', serif" font-size="22.4" text-anchor="end">−6</text>
<text transform="translate(163.6,2367.6) scale(1,1.065)" font-family="'Liberation Serif', serif" font-size="32" text-anchor="end">10</text>
<line x1="200.3" y1="2321.7" x2="205.8" y2="2321.7" stroke="#000" stroke-width="1.6"/>
<line x1="200.3" y1="2304" x2="205.8" y2="2304" stroke="#000" stroke-width="1.6"/>
<line x1="200.3" y1="2291.4" x2="205.8" y2="2291.4" stroke="#000" stroke-width="1.6"/>
<line x1="200.3" y1="2281.7" x2="205.8" y2="2281.7" stroke="#000" stroke-width="1.6"/>
<line x1="200.3" y1="2273.7" x2="205.8" y2="2273.7" stroke="#000" stroke-width="1.6"/>
<line x1="200.3" y1="2267" x2="205.8" y2="2267" stroke="#000" stroke-width="1.6"/>
<line x1="200.3" y1="2261.1" x2="205.8" y2="2261.1" stroke="#000" stroke-width="1.6"/>
<line x1="200.3" y1="2256" x2="205.8" y2="2256" stroke="#000" stroke-width="1.6"/>
<line x1="200.3" y1="2382.3" x2="205.8" y2="2382.3" stroke="#000" stroke-width="1.6"/>
<line x1="200.3" y1="2374.3" x2="205.8" y2="2374.3" stroke="#000" stroke-width="1.6"/>
<line x1="200.3" y1="2367.6" x2="205.8" y2="2367.6" stroke="#000" stroke-width="1.6"/>
<line x1="200.3" y1="2361.7" x2="205.8" y2="2361.7" stroke="#000" stroke-width="1.6"/>
<line x1="200.3" y1="2356.6" x2="205.8" y2="2356.6" stroke="#000" stroke-width="1.6"/>
<text x="695.5" y="2475.2" font-family="'Liberation Serif', serif" font-size="43.5" text-anchor="middle">Iteration</text>
<text transform="translate(110,2022.1) rotate(-90)" font-family="'Liberation Serif', serif" font-size="43.5" text-anchor="middle">Loss</text>
<text x="2" y="1689.8" font-family="'Liberation Serif', serif" font-size="40">c)</text>
</svg></body></html>
